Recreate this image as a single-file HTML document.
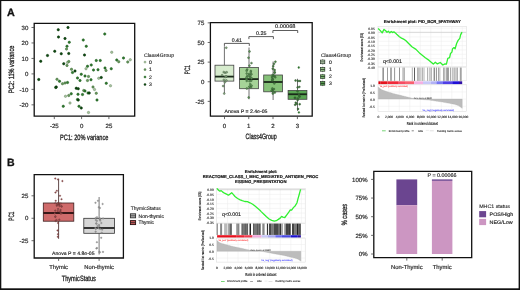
<!DOCTYPE html>
<html><head><meta charset="utf-8"><style>
html,body{margin:0;padding:0;background:#fff;}
svg{display:block;font-family:"Liberation Sans", sans-serif;text-rendering:geometricPrecision;}
</style></head><body>
<svg width="520" height="290" viewBox="0 0 520 290">
<rect width="520" height="290" fill="#fff"/>
<rect x="0.00" y="0.00" width="520.00" height="1.05" fill="#111" stroke="none" stroke-width="1" />
<rect x="0.00" y="0.00" width="1.30" height="290.00" fill="#111" stroke="none" stroke-width="1" />
<rect x="518.60" y="0.00" width="1.40" height="290.00" fill="#111" stroke="none" stroke-width="1" />
<rect x="0.00" y="288.30" width="520.00" height="1.70" fill="#111" stroke="none" stroke-width="1" />
<circle cx="58.25" cy="29.75" r="1.2" fill="#0e4a12" stroke="#063006" stroke-width="0.5"/>
<circle cx="68.00" cy="27.50" r="1.2" fill="#0e4a12" stroke="#063006" stroke-width="0.5"/>
<circle cx="58.50" cy="37.00" r="1.2" fill="#0e4a12" stroke="#063006" stroke-width="0.5"/>
<circle cx="65.00" cy="38.50" r="1.2" fill="#0e4a12" stroke="#063006" stroke-width="0.5"/>
<circle cx="69.25" cy="42.25" r="1.2" fill="#2f7a2f" stroke="#1f5a1f" stroke-width="0.5"/>
<circle cx="67.00" cy="46.25" r="1.2" fill="#2f7a2f" stroke="#1f5a1f" stroke-width="0.5"/>
<circle cx="66.50" cy="49.00" r="1.2" fill="#6a9a5f" stroke="#3f6a38" stroke-width="0.5"/>
<circle cx="54.75" cy="51.25" r="1.2" fill="#0e4a12" stroke="#063006" stroke-width="0.5"/>
<circle cx="61.25" cy="53.75" r="1.2" fill="#0e4a12" stroke="#063006" stroke-width="0.5"/>
<circle cx="68.75" cy="53.50" r="1.2" fill="#0e4a12" stroke="#063006" stroke-width="0.5"/>
<circle cx="47.50" cy="55.50" r="1.2" fill="#0e4a12" stroke="#063006" stroke-width="0.5"/>
<circle cx="40.75" cy="61.25" r="1.2" fill="#0e4a12" stroke="#063006" stroke-width="0.5"/>
<circle cx="63.75" cy="63.75" r="1.2" fill="#0e4a12" stroke="#063006" stroke-width="0.5"/>
<circle cx="67.50" cy="62.50" r="1.2" fill="#a9c4a0" stroke="#6f8a68" stroke-width="0.5"/>
<circle cx="67.00" cy="65.50" r="1.2" fill="#6a9a5f" stroke="#3f6a38" stroke-width="0.5"/>
<circle cx="68.80" cy="61.50" r="1.2" fill="#6a9a5f" stroke="#3f6a38" stroke-width="0.5"/>
<circle cx="83.25" cy="40.00" r="1.2" fill="#2f7a2f" stroke="#1f5a1f" stroke-width="0.5"/>
<circle cx="86.25" cy="46.25" r="1.2" fill="#2f7a2f" stroke="#1f5a1f" stroke-width="0.5"/>
<circle cx="84.50" cy="55.00" r="1.2" fill="#0e4a12" stroke="#063006" stroke-width="0.5"/>
<circle cx="104.75" cy="34.00" r="1.2" fill="#2f7a2f" stroke="#1f5a1f" stroke-width="0.5"/>
<circle cx="111.75" cy="52.25" r="1.2" fill="#a9c4a0" stroke="#6f8a68" stroke-width="0.5"/>
<circle cx="116.75" cy="60.00" r="1.2" fill="#2f7a2f" stroke="#1f5a1f" stroke-width="0.5"/>
<circle cx="118.75" cy="61.75" r="1.2" fill="#6a9a5f" stroke="#3f6a38" stroke-width="0.5"/>
<circle cx="123.50" cy="58.00" r="1.2" fill="#2f7a2f" stroke="#1f5a1f" stroke-width="0.5"/>
<circle cx="127.75" cy="62.00" r="1.2" fill="#6a9a5f" stroke="#3f6a38" stroke-width="0.5"/>
<circle cx="130.25" cy="59.75" r="1.2" fill="#a9c4a0" stroke="#6f8a68" stroke-width="0.5"/>
<circle cx="96.25" cy="60.50" r="1.2" fill="#2f7a2f" stroke="#1f5a1f" stroke-width="0.5"/>
<circle cx="100.25" cy="60.50" r="1.2" fill="#2f7a2f" stroke="#1f5a1f" stroke-width="0.5"/>
<circle cx="87.50" cy="66.25" r="1.2" fill="#2f7a2f" stroke="#1f5a1f" stroke-width="0.5"/>
<circle cx="91.25" cy="65.00" r="1.2" fill="#2f7a2f" stroke="#1f5a1f" stroke-width="0.5"/>
<circle cx="86.00" cy="68.75" r="1.2" fill="#a9c4a0" stroke="#6f8a68" stroke-width="0.5"/>
<circle cx="71.50" cy="69.25" r="1.2" fill="#6a9a5f" stroke="#3f6a38" stroke-width="0.5"/>
<circle cx="75.00" cy="71.00" r="1.2" fill="#0e4a12" stroke="#063006" stroke-width="0.5"/>
<circle cx="72.50" cy="72.50" r="1.2" fill="#2f7a2f" stroke="#1f5a1f" stroke-width="0.5"/>
<circle cx="93.50" cy="70.00" r="1.2" fill="#2f7a2f" stroke="#1f5a1f" stroke-width="0.5"/>
<circle cx="98.00" cy="69.75" r="1.2" fill="#2f7a2f" stroke="#1f5a1f" stroke-width="0.5"/>
<circle cx="105.00" cy="68.00" r="1.2" fill="#2f7a2f" stroke="#1f5a1f" stroke-width="0.5"/>
<circle cx="106.00" cy="70.50" r="1.2" fill="#6a9a5f" stroke="#3f6a38" stroke-width="0.5"/>
<circle cx="111.25" cy="68.75" r="1.2" fill="#2f7a2f" stroke="#1f5a1f" stroke-width="0.5"/>
<circle cx="81.25" cy="74.25" r="1.2" fill="#2f7a2f" stroke="#1f5a1f" stroke-width="0.5"/>
<circle cx="77.50" cy="78.00" r="1.2" fill="#2f7a2f" stroke="#1f5a1f" stroke-width="0.5"/>
<circle cx="80.00" cy="80.50" r="1.2" fill="#2f7a2f" stroke="#1f5a1f" stroke-width="0.5"/>
<circle cx="85.00" cy="76.00" r="1.2" fill="#2f7a2f" stroke="#1f5a1f" stroke-width="0.5"/>
<circle cx="88.50" cy="76.50" r="1.2" fill="#6a9a5f" stroke="#3f6a38" stroke-width="0.5"/>
<circle cx="91.00" cy="79.75" r="1.2" fill="#2f7a2f" stroke="#1f5a1f" stroke-width="0.5"/>
<circle cx="87.50" cy="80.50" r="1.2" fill="#6a9a5f" stroke="#3f6a38" stroke-width="0.5"/>
<circle cx="98.75" cy="78.25" r="1.2" fill="#a9c4a0" stroke="#6f8a68" stroke-width="0.5"/>
<circle cx="101.25" cy="77.50" r="1.2" fill="#0e4a12" stroke="#063006" stroke-width="0.5"/>
<circle cx="38.75" cy="79.50" r="1.2" fill="#0e4a12" stroke="#063006" stroke-width="0.5"/>
<circle cx="57.00" cy="79.25" r="1.2" fill="#6a9a5f" stroke="#3f6a38" stroke-width="0.5"/>
<circle cx="59.50" cy="81.25" r="1.2" fill="#2f7a2f" stroke="#1f5a1f" stroke-width="0.5"/>
<circle cx="62.50" cy="83.75" r="1.2" fill="#6a9a5f" stroke="#3f6a38" stroke-width="0.5"/>
<circle cx="65.00" cy="83.00" r="1.2" fill="#6a9a5f" stroke="#3f6a38" stroke-width="0.5"/>
<circle cx="67.50" cy="82.50" r="1.2" fill="#2f7a2f" stroke="#1f5a1f" stroke-width="0.5"/>
<circle cx="56.25" cy="87.00" r="1.2" fill="#0e4a12" stroke="#063006" stroke-width="0.5"/>
<circle cx="55.75" cy="87.50" r="1.2" fill="#0e4a12" stroke="#063006" stroke-width="0.5"/>
<circle cx="76.25" cy="88.25" r="1.2" fill="#0e4a12" stroke="#063006" stroke-width="0.5"/>
<circle cx="78.25" cy="88.75" r="1.2" fill="#0e4a12" stroke="#063006" stroke-width="0.5"/>
<circle cx="83.75" cy="90.50" r="1.2" fill="#6a9a5f" stroke="#3f6a38" stroke-width="0.5"/>
<circle cx="85.00" cy="91.00" r="1.2" fill="#2f7a2f" stroke="#1f5a1f" stroke-width="0.5"/>
<circle cx="88.00" cy="93.00" r="1.2" fill="#2f7a2f" stroke="#1f5a1f" stroke-width="0.5"/>
<circle cx="89.25" cy="93.00" r="1.2" fill="#0e4a12" stroke="#063006" stroke-width="0.5"/>
<circle cx="93.00" cy="87.00" r="1.2" fill="#6a9a5f" stroke="#3f6a38" stroke-width="0.5"/>
<circle cx="94.50" cy="89.50" r="1.2" fill="#a9c4a0" stroke="#6f8a68" stroke-width="0.5"/>
<circle cx="96.25" cy="93.25" r="1.2" fill="#6a9a5f" stroke="#3f6a38" stroke-width="0.5"/>
<circle cx="106.25" cy="83.25" r="1.2" fill="#2f7a2f" stroke="#1f5a1f" stroke-width="0.5"/>
<circle cx="110.50" cy="85.75" r="1.2" fill="#a9c4a0" stroke="#6f8a68" stroke-width="0.5"/>
<circle cx="65.50" cy="96.25" r="1.2" fill="#a9c4a0" stroke="#6f8a68" stroke-width="0.5"/>
<circle cx="68.75" cy="95.50" r="1.2" fill="#6a9a5f" stroke="#3f6a38" stroke-width="0.5"/>
<circle cx="71.25" cy="93.75" r="1.2" fill="#2f7a2f" stroke="#1f5a1f" stroke-width="0.5"/>
<circle cx="78.00" cy="94.25" r="1.2" fill="#2f7a2f" stroke="#1f5a1f" stroke-width="0.5"/>
<circle cx="82.50" cy="94.50" r="1.2" fill="#2f7a2f" stroke="#1f5a1f" stroke-width="0.5"/>
<circle cx="70.00" cy="103.00" r="1.2" fill="#a9c4a0" stroke="#6f8a68" stroke-width="0.5"/>
<circle cx="77.50" cy="99.50" r="1.2" fill="#2f7a2f" stroke="#1f5a1f" stroke-width="0.5"/>
<circle cx="78.25" cy="100.00" r="1.2" fill="#0e4a12" stroke="#063006" stroke-width="0.5"/>
<circle cx="79.00" cy="106.25" r="1.2" fill="#2f7a2f" stroke="#1f5a1f" stroke-width="0.5"/>
<circle cx="81.25" cy="108.00" r="1.2" fill="#0e4a12" stroke="#063006" stroke-width="0.5"/>
<circle cx="63.25" cy="106.25" r="1.2" fill="#2f7a2f" stroke="#1f5a1f" stroke-width="0.5"/>
<circle cx="88.50" cy="112.50" r="1.2" fill="#a9c4a0" stroke="#6f8a68" stroke-width="0.5"/>
<circle cx="97.00" cy="100.00" r="1.2" fill="#2f7a2f" stroke="#1f5a1f" stroke-width="0.5"/>
<path d="M34.2,23.35 L134.7,23.35 L134.7,116.2 L34.2,116.2 Z" fill="none" stroke="#111" stroke-width="1.3"/>
<line x1="31.50" y1="27.49" x2="34.20" y2="27.49" stroke="#444" stroke-width="0.8" />
<line x1="31.50" y1="42.96" x2="34.20" y2="42.96" stroke="#444" stroke-width="0.8" />
<line x1="31.50" y1="58.43" x2="34.20" y2="58.43" stroke="#444" stroke-width="0.8" />
<line x1="31.50" y1="73.90" x2="34.20" y2="73.90" stroke="#444" stroke-width="0.8" />
<line x1="31.50" y1="89.37" x2="34.20" y2="89.37" stroke="#444" stroke-width="0.8" />
<line x1="31.50" y1="104.84" x2="34.20" y2="104.84" stroke="#444" stroke-width="0.8" />
<line x1="54.30" y1="116.20" x2="54.30" y2="119.10" stroke="#444" stroke-width="0.8" />
<line x1="81.60" y1="116.20" x2="81.60" y2="119.10" stroke="#444" stroke-width="0.8" />
<line x1="108.90" y1="116.20" x2="108.90" y2="119.10" stroke="#444" stroke-width="0.8" />
<circle cx="145.00" cy="62.10" r="1.05" fill="#a9c4a0" stroke="#6f8a68" stroke-width="0.4"/>
<circle cx="145.00" cy="69.60" r="1.05" fill="#6a9a5f" stroke="#3f6a38" stroke-width="0.4"/>
<circle cx="145.00" cy="77.00" r="1.05" fill="#2f7a2f" stroke="#1f5a1f" stroke-width="0.4"/>
<circle cx="145.00" cy="84.50" r="1.05" fill="#0e4a12" stroke="#063006" stroke-width="0.4"/>
<line x1="224.40" y1="46.25" x2="224.40" y2="65.20" stroke="#333" stroke-width="0.7" />
<line x1="224.40" y1="81.10" x2="224.40" y2="93.75" stroke="#333" stroke-width="0.7" />
<rect x="215.00" y="65.20" width="18.80" height="15.90" fill="#d6ebcd" stroke="#444" stroke-width="0.8" />
<line x1="215.00" y1="76.60" x2="233.80" y2="76.60" stroke="#1a2a1a" stroke-width="1.8" />
<line x1="249.00" y1="47.50" x2="249.00" y2="67.50" stroke="#333" stroke-width="0.7" />
<line x1="249.00" y1="88.70" x2="249.00" y2="99.25" stroke="#333" stroke-width="0.7" />
<rect x="239.60" y="67.50" width="18.80" height="21.20" fill="#a6d398" stroke="#444" stroke-width="0.8" />
<line x1="239.60" y1="79.10" x2="258.40" y2="79.10" stroke="#1a2a1a" stroke-width="1.8" />
<line x1="273.10" y1="61.50" x2="273.10" y2="75.00" stroke="#333" stroke-width="0.7" />
<line x1="273.10" y1="91.80" x2="273.10" y2="100.00" stroke="#333" stroke-width="0.7" />
<rect x="263.70" y="75.00" width="18.80" height="16.80" fill="#85c178" stroke="#444" stroke-width="0.8" />
<line x1="263.70" y1="82.00" x2="282.50" y2="82.00" stroke="#1a2a1a" stroke-width="1.8" />
<line x1="297.50" y1="78.75" x2="297.50" y2="90.50" stroke="#333" stroke-width="0.7" />
<line x1="297.50" y1="99.30" x2="297.50" y2="110.90" stroke="#333" stroke-width="0.7" />
<rect x="288.10" y="90.50" width="18.80" height="8.80" fill="#5aa553" stroke="#444" stroke-width="0.8" />
<line x1="288.10" y1="94.25" x2="306.90" y2="94.25" stroke="#1a2a1a" stroke-width="1.8" />
<circle cx="223.72" cy="72.10" r="0.95" fill="#8fae88" stroke="#2d4a2a" stroke-width="0.4"/>
<circle cx="222.14" cy="75.15" r="0.95" fill="#8fae88" stroke="#2d4a2a" stroke-width="0.4"/>
<circle cx="223.15" cy="86.03" r="0.95" fill="#8fae88" stroke="#2d4a2a" stroke-width="0.4"/>
<circle cx="224.25" cy="93.54" r="0.95" fill="#8fae88" stroke="#2d4a2a" stroke-width="0.4"/>
<circle cx="225.12" cy="72.77" r="0.95" fill="#8fae88" stroke="#2d4a2a" stroke-width="0.4"/>
<circle cx="226.31" cy="76.41" r="0.95" fill="#8fae88" stroke="#2d4a2a" stroke-width="0.4"/>
<circle cx="225.29" cy="76.99" r="0.95" fill="#8fae88" stroke="#2d4a2a" stroke-width="0.4"/>
<circle cx="224.87" cy="82.27" r="0.95" fill="#8fae88" stroke="#2d4a2a" stroke-width="0.4"/>
<circle cx="226.30" cy="47.72" r="0.95" fill="#8fae88" stroke="#2d4a2a" stroke-width="0.4"/>
<circle cx="226.37" cy="80.39" r="0.95" fill="#8fae88" stroke="#2d4a2a" stroke-width="0.4"/>
<circle cx="223.85" cy="79.85" r="0.95" fill="#8fae88" stroke="#2d4a2a" stroke-width="0.4"/>
<circle cx="226.67" cy="72.27" r="0.95" fill="#8fae88" stroke="#2d4a2a" stroke-width="0.4"/>
<circle cx="247.11" cy="69.57" r="0.95" fill="#5f9a58" stroke="#2d4a2a" stroke-width="0.4"/>
<circle cx="248.67" cy="97.46" r="0.95" fill="#5f9a58" stroke="#2d4a2a" stroke-width="0.4"/>
<circle cx="249.04" cy="73.88" r="0.95" fill="#5f9a58" stroke="#2d4a2a" stroke-width="0.4"/>
<circle cx="249.44" cy="65.66" r="0.95" fill="#5f9a58" stroke="#2d4a2a" stroke-width="0.4"/>
<circle cx="249.95" cy="86.67" r="0.95" fill="#5f9a58" stroke="#2d4a2a" stroke-width="0.4"/>
<circle cx="251.55" cy="85.66" r="0.95" fill="#5f9a58" stroke="#2d4a2a" stroke-width="0.4"/>
<circle cx="250.88" cy="70.96" r="0.95" fill="#5f9a58" stroke="#2d4a2a" stroke-width="0.4"/>
<circle cx="249.36" cy="86.68" r="0.95" fill="#5f9a58" stroke="#2d4a2a" stroke-width="0.4"/>
<circle cx="250.72" cy="71.98" r="0.95" fill="#5f9a58" stroke="#2d4a2a" stroke-width="0.4"/>
<circle cx="246.73" cy="73.54" r="0.95" fill="#5f9a58" stroke="#2d4a2a" stroke-width="0.4"/>
<circle cx="246.86" cy="88.48" r="0.95" fill="#5f9a58" stroke="#2d4a2a" stroke-width="0.4"/>
<circle cx="247.18" cy="76.20" r="0.95" fill="#5f9a58" stroke="#2d4a2a" stroke-width="0.4"/>
<circle cx="250.94" cy="87.28" r="0.95" fill="#5f9a58" stroke="#2d4a2a" stroke-width="0.4"/>
<circle cx="246.63" cy="79.30" r="0.95" fill="#5f9a58" stroke="#2d4a2a" stroke-width="0.4"/>
<circle cx="250.98" cy="74.52" r="0.95" fill="#5f9a58" stroke="#2d4a2a" stroke-width="0.4"/>
<circle cx="251.59" cy="78.21" r="0.95" fill="#5f9a58" stroke="#2d4a2a" stroke-width="0.4"/>
<circle cx="249.52" cy="51.48" r="0.95" fill="#5f9a58" stroke="#2d4a2a" stroke-width="0.4"/>
<circle cx="248.52" cy="57.71" r="0.95" fill="#5f9a58" stroke="#2d4a2a" stroke-width="0.4"/>
<circle cx="246.62" cy="70.81" r="0.95" fill="#5f9a58" stroke="#2d4a2a" stroke-width="0.4"/>
<circle cx="251.39" cy="74.15" r="0.95" fill="#5f9a58" stroke="#2d4a2a" stroke-width="0.4"/>
<circle cx="248.79" cy="75.51" r="0.95" fill="#5f9a58" stroke="#2d4a2a" stroke-width="0.4"/>
<circle cx="249.50" cy="81.15" r="0.95" fill="#5f9a58" stroke="#2d4a2a" stroke-width="0.4"/>
<circle cx="251.29" cy="80.65" r="0.95" fill="#5f9a58" stroke="#2d4a2a" stroke-width="0.4"/>
<circle cx="250.15" cy="76.64" r="0.95" fill="#5f9a58" stroke="#2d4a2a" stroke-width="0.4"/>
<circle cx="251.48" cy="63.08" r="0.95" fill="#5f9a58" stroke="#2d4a2a" stroke-width="0.4"/>
<circle cx="246.46" cy="79.13" r="0.95" fill="#5f9a58" stroke="#2d4a2a" stroke-width="0.4"/>
<circle cx="246.50" cy="77.51" r="0.95" fill="#5f9a58" stroke="#2d4a2a" stroke-width="0.4"/>
<circle cx="246.71" cy="80.90" r="0.95" fill="#5f9a58" stroke="#2d4a2a" stroke-width="0.4"/>
<circle cx="249.93" cy="77.38" r="0.95" fill="#5f9a58" stroke="#2d4a2a" stroke-width="0.4"/>
<circle cx="250.24" cy="84.08" r="0.95" fill="#5f9a58" stroke="#2d4a2a" stroke-width="0.4"/>
<circle cx="274.02" cy="63.83" r="0.95" fill="#4a8a45" stroke="#2d4a2a" stroke-width="0.4"/>
<circle cx="272.87" cy="79.22" r="0.95" fill="#4a8a45" stroke="#2d4a2a" stroke-width="0.4"/>
<circle cx="272.39" cy="80.38" r="0.95" fill="#4a8a45" stroke="#2d4a2a" stroke-width="0.4"/>
<circle cx="273.60" cy="75.71" r="0.95" fill="#4a8a45" stroke="#2d4a2a" stroke-width="0.4"/>
<circle cx="274.52" cy="76.02" r="0.95" fill="#4a8a45" stroke="#2d4a2a" stroke-width="0.4"/>
<circle cx="274.32" cy="83.42" r="0.95" fill="#4a8a45" stroke="#2d4a2a" stroke-width="0.4"/>
<circle cx="274.68" cy="70.07" r="0.95" fill="#4a8a45" stroke="#2d4a2a" stroke-width="0.4"/>
<circle cx="272.76" cy="68.71" r="0.95" fill="#4a8a45" stroke="#2d4a2a" stroke-width="0.4"/>
<circle cx="272.17" cy="76.71" r="0.95" fill="#4a8a45" stroke="#2d4a2a" stroke-width="0.4"/>
<circle cx="272.78" cy="93.59" r="0.95" fill="#4a8a45" stroke="#2d4a2a" stroke-width="0.4"/>
<circle cx="272.25" cy="77.84" r="0.95" fill="#4a8a45" stroke="#2d4a2a" stroke-width="0.4"/>
<circle cx="272.85" cy="89.87" r="0.95" fill="#4a8a45" stroke="#2d4a2a" stroke-width="0.4"/>
<circle cx="273.25" cy="66.16" r="0.95" fill="#4a8a45" stroke="#2d4a2a" stroke-width="0.4"/>
<circle cx="274.86" cy="92.56" r="0.95" fill="#4a8a45" stroke="#2d4a2a" stroke-width="0.4"/>
<circle cx="274.70" cy="72.23" r="0.95" fill="#4a8a45" stroke="#2d4a2a" stroke-width="0.4"/>
<circle cx="272.30" cy="88.55" r="0.95" fill="#4a8a45" stroke="#2d4a2a" stroke-width="0.4"/>
<circle cx="274.63" cy="72.74" r="0.95" fill="#4a8a45" stroke="#2d4a2a" stroke-width="0.4"/>
<circle cx="272.67" cy="74.83" r="0.95" fill="#4a8a45" stroke="#2d4a2a" stroke-width="0.4"/>
<circle cx="275.29" cy="77.27" r="0.95" fill="#4a8a45" stroke="#2d4a2a" stroke-width="0.4"/>
<circle cx="275.40" cy="61.68" r="0.95" fill="#4a8a45" stroke="#2d4a2a" stroke-width="0.4"/>
<circle cx="272.76" cy="91.58" r="0.95" fill="#4a8a45" stroke="#2d4a2a" stroke-width="0.4"/>
<circle cx="271.65" cy="90.58" r="0.95" fill="#4a8a45" stroke="#2d4a2a" stroke-width="0.4"/>
<circle cx="273.95" cy="89.06" r="0.95" fill="#4a8a45" stroke="#2d4a2a" stroke-width="0.4"/>
<circle cx="272.27" cy="79.86" r="0.95" fill="#4a8a45" stroke="#2d4a2a" stroke-width="0.4"/>
<circle cx="297.96" cy="80.94" r="0.95" fill="#3a7a38" stroke="#2d4a2a" stroke-width="0.4"/>
<circle cx="295.13" cy="104.80" r="0.95" fill="#3a7a38" stroke="#2d4a2a" stroke-width="0.4"/>
<circle cx="299.70" cy="96.60" r="0.95" fill="#3a7a38" stroke="#2d4a2a" stroke-width="0.4"/>
<circle cx="297.90" cy="98.42" r="0.95" fill="#3a7a38" stroke="#2d4a2a" stroke-width="0.4"/>
<circle cx="295.79" cy="102.71" r="0.95" fill="#3a7a38" stroke="#2d4a2a" stroke-width="0.4"/>
<circle cx="297.63" cy="100.06" r="0.95" fill="#3a7a38" stroke="#2d4a2a" stroke-width="0.4"/>
<circle cx="298.08" cy="108.94" r="0.95" fill="#3a7a38" stroke="#2d4a2a" stroke-width="0.4"/>
<circle cx="299.38" cy="86.87" r="0.95" fill="#3a7a38" stroke="#2d4a2a" stroke-width="0.4"/>
<circle cx="296.73" cy="103.90" r="0.95" fill="#3a7a38" stroke="#2d4a2a" stroke-width="0.4"/>
<circle cx="299.15" cy="95.94" r="0.95" fill="#3a7a38" stroke="#2d4a2a" stroke-width="0.4"/>
<circle cx="299.69" cy="104.20" r="0.95" fill="#3a7a38" stroke="#2d4a2a" stroke-width="0.4"/>
<circle cx="294.94" cy="97.75" r="0.95" fill="#3a7a38" stroke="#2d4a2a" stroke-width="0.4"/>
<circle cx="295.16" cy="98.09" r="0.95" fill="#3a7a38" stroke="#2d4a2a" stroke-width="0.4"/>
<circle cx="297.64" cy="87.39" r="0.95" fill="#3a7a38" stroke="#2d4a2a" stroke-width="0.4"/>
<circle cx="298.94" cy="93.95" r="0.95" fill="#3a7a38" stroke="#2d4a2a" stroke-width="0.4"/>
<circle cx="295.56" cy="80.51" r="0.95" fill="#3a7a38" stroke="#2d4a2a" stroke-width="0.4"/>
<circle cx="299.97" cy="80.95" r="0.95" fill="#3a7a38" stroke="#2d4a2a" stroke-width="0.4"/>
<circle cx="297.51" cy="91.26" r="0.95" fill="#3a7a38" stroke="#2d4a2a" stroke-width="0.4"/>
<circle cx="298.75" cy="67.50" r="0.9" fill="#2a7a2a" stroke="#2d5a2a" stroke-width="0.35"/>
<circle cx="298.90" cy="112.40" r="0.9" fill="#2a7a2a" stroke="#2d5a2a" stroke-width="0.35"/>
<path d="M210.4,22.7 L312.2,22.7 L312.2,116.2 L210.4,116.2 Z" fill="none" stroke="#111" stroke-width="1.3"/>
<line x1="207.70" y1="22.85" x2="210.40" y2="22.85" stroke="#444" stroke-width="0.8" />
<line x1="207.70" y1="42.48" x2="210.40" y2="42.48" stroke="#444" stroke-width="0.8" />
<line x1="207.70" y1="62.12" x2="210.40" y2="62.12" stroke="#444" stroke-width="0.8" />
<line x1="207.70" y1="81.75" x2="210.40" y2="81.75" stroke="#444" stroke-width="0.8" />
<line x1="207.70" y1="101.38" x2="210.40" y2="101.38" stroke="#444" stroke-width="0.8" />
<line x1="224.50" y1="116.20" x2="224.50" y2="119.10" stroke="#444" stroke-width="0.8" />
<line x1="248.75" y1="116.20" x2="248.75" y2="119.10" stroke="#444" stroke-width="0.8" />
<line x1="273.00" y1="116.20" x2="273.00" y2="119.10" stroke="#444" stroke-width="0.8" />
<line x1="297.40" y1="116.20" x2="297.40" y2="119.10" stroke="#444" stroke-width="0.8" />
<path d="M224.40,45.90 L224.40,43.40 L249.30,43.40 L249.30,45.90" stroke="#333" stroke-width="0.8" fill="none" stroke-linejoin="round" />
<path d="M248.90,39.10 L248.90,36.60 L273.40,36.60 L273.40,39.10" stroke="#333" stroke-width="0.8" fill="none" stroke-linejoin="round" />
<path d="M272.90,33.00 L272.90,30.50 L297.70,30.50 L297.70,33.00" stroke="#333" stroke-width="0.8" fill="none" stroke-linejoin="round" />
<line x1="322.70" y1="59.20" x2="322.70" y2="64.60" stroke="#333" stroke-width="0.6" />
<rect x="320.60" y="60.10" width="4.20" height="3.60" fill="#d6ebcd" stroke="#2a3a2a" stroke-width="0.7" />
<line x1="320.60" y1="61.90" x2="324.80" y2="61.90" stroke="#1a2a1a" stroke-width="0.8" />
<line x1="322.70" y1="66.70" x2="322.70" y2="72.10" stroke="#333" stroke-width="0.6" />
<rect x="320.60" y="67.60" width="4.20" height="3.60" fill="#a6d398" stroke="#2a3a2a" stroke-width="0.7" />
<line x1="320.60" y1="69.40" x2="324.80" y2="69.40" stroke="#1a2a1a" stroke-width="0.8" />
<line x1="322.70" y1="73.90" x2="322.70" y2="79.30" stroke="#333" stroke-width="0.6" />
<rect x="320.60" y="74.80" width="4.20" height="3.60" fill="#85c178" stroke="#2a3a2a" stroke-width="0.7" />
<line x1="320.60" y1="76.60" x2="324.80" y2="76.60" stroke="#1a2a1a" stroke-width="0.8" />
<line x1="322.70" y1="80.70" x2="322.70" y2="86.10" stroke="#333" stroke-width="0.6" />
<rect x="320.60" y="81.60" width="4.20" height="3.60" fill="#5aa553" stroke="#2a3a2a" stroke-width="0.7" />
<line x1="320.60" y1="83.40" x2="324.80" y2="83.40" stroke="#1a2a1a" stroke-width="0.8" />
<rect x="378.00" y="26.70" width="88.30" height="40.10" fill="#fff" stroke="#d8d8d8" stroke-width="0.5" />
<line x1="388.80" y1="26.70" x2="388.80" y2="66.80" stroke="#ececec" stroke-width="0.5" />
<line x1="399.30" y1="26.70" x2="399.30" y2="66.80" stroke="#ececec" stroke-width="0.5" />
<line x1="409.80" y1="26.70" x2="409.80" y2="66.80" stroke="#ececec" stroke-width="0.5" />
<line x1="420.30" y1="26.70" x2="420.30" y2="66.80" stroke="#ececec" stroke-width="0.5" />
<line x1="430.80" y1="26.70" x2="430.80" y2="66.80" stroke="#ececec" stroke-width="0.5" />
<line x1="441.30" y1="26.70" x2="441.30" y2="66.80" stroke="#ececec" stroke-width="0.5" />
<line x1="451.80" y1="26.70" x2="451.80" y2="66.80" stroke="#ececec" stroke-width="0.5" />
<line x1="462.30" y1="26.70" x2="462.30" y2="66.80" stroke="#ececec" stroke-width="0.5" />
<line x1="378.30" y1="28.20" x2="466.30" y2="28.20" stroke="#ececec" stroke-width="0.5" />
<line x1="378.30" y1="32.55" x2="466.30" y2="32.55" stroke="#ececec" stroke-width="0.5" />
<line x1="378.30" y1="36.90" x2="466.30" y2="36.90" stroke="#ececec" stroke-width="0.5" />
<line x1="378.30" y1="41.25" x2="466.30" y2="41.25" stroke="#ececec" stroke-width="0.5" />
<line x1="378.30" y1="45.60" x2="466.30" y2="45.60" stroke="#ececec" stroke-width="0.5" />
<line x1="378.30" y1="49.95" x2="466.30" y2="49.95" stroke="#ececec" stroke-width="0.5" />
<line x1="378.30" y1="54.30" x2="466.30" y2="54.30" stroke="#ececec" stroke-width="0.5" />
<line x1="378.30" y1="58.65" x2="466.30" y2="58.65" stroke="#ececec" stroke-width="0.5" />
<line x1="378.30" y1="63.00" x2="466.30" y2="63.00" stroke="#ececec" stroke-width="0.5" />
<line x1="378.30" y1="32.30" x2="466.30" y2="32.30" stroke="#bbb" stroke-width="0.5" />
<path d="M378.10,28.50 L380.10,30.40 L382.20,32.90 L384.00,29.40 L385.70,30.80 L387.00,32.20 L388.40,31.20 L389.80,32.90 L391.20,31.50 L392.60,32.60 L393.90,31.80 L395.30,32.90 L396.70,34.30 L399.40,36.80 L401.50,38.10 L403.60,39.10 L405.70,40.50 L408.40,43.20 L411.90,46.70 L416.00,49.40 L420.10,53.60 L425.00,57.50 L429.10,60.40 L433.30,64.10 L435.30,62.20 L437.40,63.90 L440.20,62.50 L442.90,65.00 L445.00,63.90 L446.40,64.10 L447.80,58.30 L449.60,57.70 L450.50,53.50 L451.90,52.10 L452.60,48.70 L454.00,47.60 L455.10,48.70 L456.70,43.20 L458.10,40.40 L459.80,38.30 L460.60,34.90 L462.00,32.10" stroke="#30f030" stroke-width="1.3" fill="none" stroke-linejoin="round" />
<rect x="378.00" y="67.60" width="88.30" height="13.20" fill="#fff" stroke="#e0e0e0" stroke-width="0.5" />
<rect x="382.10" y="67.60" width="1.00" height="13.20" fill="rgba(0,0,0,0.29)" stroke="none" stroke-width="1" />
<rect x="383.00" y="67.60" width="1.00" height="13.20" fill="rgba(0,0,0,0.40)" stroke="none" stroke-width="1" />
<rect x="387.00" y="67.60" width="1.00" height="13.20" fill="rgba(0,0,0,0.39)" stroke="none" stroke-width="1" />
<rect x="390.10" y="67.60" width="1.00" height="13.20" fill="rgba(0,0,0,0.36)" stroke="none" stroke-width="1" />
<rect x="391.00" y="67.60" width="1.00" height="13.20" fill="rgba(0,0,0,0.30)" stroke="none" stroke-width="1" />
<rect x="394.10" y="67.60" width="1.00" height="13.20" fill="rgba(0,0,0,0.42)" stroke="none" stroke-width="1" />
<rect x="399.00" y="67.60" width="1.00" height="13.20" fill="rgba(0,0,0,0.43)" stroke="none" stroke-width="1" />
<rect x="402.50" y="67.60" width="1.00" height="13.20" fill="rgba(0,0,0,0.36)" stroke="none" stroke-width="1" />
<rect x="403.80" y="67.60" width="1.00" height="13.20" fill="rgba(0,0,0,0.36)" stroke="none" stroke-width="1" />
<rect x="411.80" y="67.60" width="1.00" height="13.20" fill="rgba(0,0,0,0.31)" stroke="none" stroke-width="1" />
<rect x="414.00" y="67.60" width="1.00" height="13.20" fill="rgba(0,0,0,0.64)" stroke="none" stroke-width="1" />
<rect x="417.10" y="67.60" width="1.00" height="13.20" fill="rgba(0,0,0,0.33)" stroke="none" stroke-width="1" />
<rect x="418.40" y="67.60" width="1.00" height="13.20" fill="rgba(0,0,0,0.38)" stroke="none" stroke-width="1" />
<rect x="419.70" y="67.60" width="1.00" height="13.20" fill="rgba(0,0,0,0.27)" stroke="none" stroke-width="1" />
<rect x="421.70" y="67.60" width="1.00" height="13.20" fill="rgba(0,0,0,0.42)" stroke="none" stroke-width="1" />
<rect x="423.50" y="67.60" width="1.00" height="13.20" fill="rgba(0,0,0,0.30)" stroke="none" stroke-width="1" />
<rect x="427.00" y="67.60" width="1.00" height="13.20" fill="rgba(0,0,0,0.30)" stroke="none" stroke-width="1" />
<rect x="428.80" y="67.60" width="1.00" height="13.20" fill="rgba(0,0,0,0.26)" stroke="none" stroke-width="1" />
<rect x="430.60" y="67.60" width="1.00" height="13.20" fill="rgba(0,0,0,0.47)" stroke="none" stroke-width="1" />
<rect x="433.70" y="67.60" width="1.00" height="13.20" fill="rgba(0,0,0,0.64)" stroke="none" stroke-width="1" />
<rect x="435.90" y="67.60" width="1.00" height="13.20" fill="rgba(0,0,0,0.44)" stroke="none" stroke-width="1" />
<rect x="438.10" y="67.60" width="1.00" height="13.20" fill="rgba(0,0,0,0.39)" stroke="none" stroke-width="1" />
<rect x="439.40" y="67.60" width="1.00" height="13.20" fill="rgba(0,0,0,0.26)" stroke="none" stroke-width="1" />
<rect x="443.00" y="67.60" width="1.00" height="13.20" fill="rgba(0,0,0,0.32)" stroke="none" stroke-width="1" />
<rect x="444.30" y="67.60" width="1.00" height="13.20" fill="rgba(0,0,0,0.36)" stroke="none" stroke-width="1" />
<rect x="446.50" y="67.60" width="1.00" height="13.20" fill="rgba(0,0,0,0.64)" stroke="none" stroke-width="1" />
<rect x="447.80" y="67.60" width="1.00" height="13.20" fill="rgba(0,0,0,0.46)" stroke="none" stroke-width="1" />
<rect x="450.00" y="67.60" width="1.00" height="13.20" fill="rgba(0,0,0,0.33)" stroke="none" stroke-width="1" />
<rect x="451.80" y="67.60" width="1.00" height="13.20" fill="rgba(0,0,0,0.29)" stroke="none" stroke-width="1" />
<rect x="453.60" y="67.60" width="1.00" height="13.20" fill="rgba(0,0,0,0.43)" stroke="none" stroke-width="1" />
<rect x="455.30" y="67.60" width="1.00" height="13.20" fill="rgba(0,0,0,0.28)" stroke="none" stroke-width="1" />
<rect x="456.70" y="67.60" width="1.00" height="13.20" fill="rgba(0,0,0,0.45)" stroke="none" stroke-width="1" />
<rect x="459.80" y="67.60" width="1.00" height="13.20" fill="rgba(0,0,0,0.35)" stroke="none" stroke-width="1" />
<rect x="460.70" y="67.60" width="1.00" height="13.20" fill="rgba(0,0,0,0.37)" stroke="none" stroke-width="1" />
<rect x="378.40" y="81.30" width="2.30" height="3.20" fill="#d8000c" stroke="none" stroke-width="1" />
<rect x="380.70" y="81.30" width="6.80" height="3.20" fill="#e4141e" stroke="none" stroke-width="1" />
<rect x="387.50" y="81.30" width="10.50" height="3.20" fill="#f02838" stroke="none" stroke-width="1" />
<rect x="398.00" y="81.30" width="7.00" height="3.20" fill="#f64c62" stroke="none" stroke-width="1" />
<rect x="405.00" y="81.30" width="9.30" height="3.20" fill="#f8606e" stroke="none" stroke-width="1" />
<rect x="414.30" y="81.30" width="8.70" height="3.20" fill="#f4b0e2" stroke="none" stroke-width="1" />
<rect x="423.00" y="81.30" width="7.60" height="3.20" fill="#c8c8f8" stroke="none" stroke-width="1" />
<rect x="430.60" y="81.30" width="5.80" height="3.20" fill="#b2b2f4" stroke="none" stroke-width="1" />
<rect x="436.40" y="81.30" width="6.60" height="3.20" fill="#7676f2" stroke="none" stroke-width="1" />
<rect x="443.00" y="81.30" width="9.20" height="3.20" fill="#5040e6" stroke="none" stroke-width="1" />
<rect x="452.20" y="81.30" width="6.80" height="3.20" fill="#2010d6" stroke="none" stroke-width="1" />
<rect x="459.00" y="81.30" width="3.20" height="3.20" fill="#3010a6" stroke="none" stroke-width="1" />
<rect x="378.00" y="84.60" width="88.30" height="27.00" fill="#fff" stroke="#d8d8d8" stroke-width="0.5" />
<line x1="388.80" y1="84.60" x2="388.80" y2="111.60" stroke="#ececec" stroke-width="0.5" />
<line x1="399.30" y1="84.60" x2="399.30" y2="111.60" stroke="#ececec" stroke-width="0.5" />
<line x1="409.80" y1="84.60" x2="409.80" y2="111.60" stroke="#ececec" stroke-width="0.5" />
<line x1="420.30" y1="84.60" x2="420.30" y2="111.60" stroke="#ececec" stroke-width="0.5" />
<line x1="430.80" y1="84.60" x2="430.80" y2="111.60" stroke="#ececec" stroke-width="0.5" />
<line x1="441.30" y1="84.60" x2="441.30" y2="111.60" stroke="#ececec" stroke-width="0.5" />
<line x1="451.80" y1="84.60" x2="451.80" y2="111.60" stroke="#ececec" stroke-width="0.5" />
<line x1="462.30" y1="84.60" x2="462.30" y2="111.60" stroke="#ececec" stroke-width="0.5" />
<line x1="378.30" y1="84.80" x2="466.30" y2="84.80" stroke="#ececec" stroke-width="0.5" />
<line x1="378.30" y1="91.95" x2="466.30" y2="91.95" stroke="#ececec" stroke-width="0.5" />
<line x1="378.30" y1="99.10" x2="466.30" y2="99.10" stroke="#ececec" stroke-width="0.5" />
<line x1="378.30" y1="106.25" x2="466.30" y2="106.25" stroke="#ececec" stroke-width="0.5" />
<path d="M378.30,99.10 L378.30,86.87 L379.00,87.64 L379.70,88.30 L380.40,88.83 L381.10,89.28 L381.80,89.68 L382.50,90.03 L383.19,90.31 L383.89,90.55 L384.59,90.79 L385.29,91.03 L385.99,91.27 L386.69,91.51 L387.39,91.75 L388.09,91.98 L388.79,92.20 L389.49,92.41 L390.19,92.62 L390.88,92.83 L391.58,93.03 L392.28,93.24 L392.98,93.45 L393.68,93.65 L394.38,93.85 L395.08,94.03 L395.78,94.20 L396.48,94.37 L397.18,94.53 L397.88,94.69 L398.58,94.86 L399.27,95.02 L399.97,95.19 L400.67,95.36 L401.37,95.54 L402.07,95.72 L402.77,95.90 L403.47,96.07 L404.17,96.25 L404.87,96.43 L405.57,96.60 L406.27,96.77 L406.97,96.93 L407.67,97.10 L408.36,97.27 L409.06,97.44 L409.76,97.61 L410.46,97.79 L411.16,97.98 L411.86,98.16 L412.56,98.35 L413.26,98.54 L413.96,98.72 L414.66,98.88 L415.36,99.00 L416.06,99.07 L416.75,99.13 L417.45,99.18 L418.15,99.23 L418.85,99.28 L419.55,99.33 L420.25,99.38 L420.95,99.43 L421.65,99.48 L422.35,99.53 L423.05,99.58 L423.75,99.63 L424.44,99.69 L425.14,99.74 L425.84,99.79 L426.54,99.84 L427.24,99.89 L427.94,99.94 L428.64,100.01 L429.34,100.10 L430.04,100.20 L430.74,100.30 L431.44,100.41 L432.14,100.51 L432.83,100.61 L433.53,100.72 L434.23,100.82 L434.93,100.92 L435.63,101.03 L436.33,101.13 L437.03,101.23 L437.73,101.34 L438.43,101.44 L439.13,101.54 L439.83,101.65 L440.53,101.75 L441.23,101.87 L441.92,101.99 L442.62,102.11 L443.32,102.24 L444.02,102.37 L444.72,102.49 L445.42,102.62 L446.12,102.74 L446.82,102.87 L447.52,103.00 L448.22,103.12 L448.92,103.25 L449.62,103.37 L450.31,103.50 L451.01,103.63 L451.71,103.75 L452.41,103.88 L453.11,104.02 L453.81,104.18 L454.51,104.36 L455.21,104.56 L455.91,104.75 L456.61,104.95 L457.31,105.17 L458.00,105.46 L458.70,105.86 L459.40,106.33 L460.10,106.83 L460.80,107.32 L461.50,107.81 L462.20,108.31 L462.20,99.10 Z" fill="#bcbcbc" stroke="#aaa" stroke-width="0.3"/>
<line x1="382.00" y1="130.80" x2="385.70" y2="130.80" stroke="#5c5" stroke-width="0.8" />
<line x1="411.80" y1="130.80" x2="414.20" y2="130.80" stroke="#222" stroke-width="0.9" stroke-dasharray="0.45 0.35"/>
<line x1="425.80" y1="130.40" x2="428.80" y2="130.40" stroke="#ddd" stroke-width="0.6" />
<line x1="429.80" y1="130.80" x2="433.80" y2="130.80" stroke="#d8d8d8" stroke-width="0.8" />
<rect x="216.70" y="188.30" width="88.50" height="35.20" fill="#fff" stroke="#d8d8d8" stroke-width="0.5" />
<line x1="227.55" y1="188.30" x2="227.55" y2="223.50" stroke="#ececec" stroke-width="0.5" />
<line x1="238.10" y1="188.30" x2="238.10" y2="223.50" stroke="#ececec" stroke-width="0.5" />
<line x1="248.65" y1="188.30" x2="248.65" y2="223.50" stroke="#ececec" stroke-width="0.5" />
<line x1="259.20" y1="188.30" x2="259.20" y2="223.50" stroke="#ececec" stroke-width="0.5" />
<line x1="269.75" y1="188.30" x2="269.75" y2="223.50" stroke="#ececec" stroke-width="0.5" />
<line x1="280.30" y1="188.30" x2="280.30" y2="223.50" stroke="#ececec" stroke-width="0.5" />
<line x1="290.85" y1="188.30" x2="290.85" y2="223.50" stroke="#ececec" stroke-width="0.5" />
<line x1="301.40" y1="188.30" x2="301.40" y2="223.50" stroke="#ececec" stroke-width="0.5" />
<line x1="217.00" y1="189.70" x2="305.20" y2="189.70" stroke="#ececec" stroke-width="0.5" />
<line x1="217.00" y1="194.37" x2="305.20" y2="194.37" stroke="#ececec" stroke-width="0.5" />
<line x1="217.00" y1="199.04" x2="305.20" y2="199.04" stroke="#ececec" stroke-width="0.5" />
<line x1="217.00" y1="203.70" x2="305.20" y2="203.70" stroke="#ececec" stroke-width="0.5" />
<line x1="217.00" y1="208.40" x2="305.20" y2="208.40" stroke="#ececec" stroke-width="0.5" />
<line x1="217.00" y1="213.10" x2="305.20" y2="213.10" stroke="#ececec" stroke-width="0.5" />
<line x1="217.00" y1="217.75" x2="305.20" y2="217.75" stroke="#ececec" stroke-width="0.5" />
<line x1="217.00" y1="222.40" x2="305.20" y2="222.40" stroke="#ececec" stroke-width="0.5" />
<line x1="217.00" y1="189.70" x2="305.20" y2="189.70" stroke="#bbb" stroke-width="0.5" />
<path d="M216.90,188.40 L218.60,190.20 L219.90,191.20 L221.20,190.60 L222.50,191.90 L224.50,193.20 L226.50,194.10 L228.40,195.20 L230.00,194.10 L231.70,192.80 L233.00,194.10 L235.00,196.50 L237.60,198.50 L240.20,199.80 L242.20,200.70 L244.80,201.50 L247.40,201.70 L250.00,202.80 L252.70,204.30 L255.30,206.30 L257.90,208.50 L259.90,210.20 L261.20,211.60 L263.90,214.20 L266.50,216.80 L269.10,219.00 L271.70,220.30 L274.30,221.10 L276.30,220.70 L278.30,219.40 L280.20,218.10 L281.60,216.40 L282.90,217.10 L284.80,217.50 L286.80,214.80 L288.80,212.20 L290.30,209.90 L291.60,210.20 L293.40,207.60 L295.30,205.70 L296.90,203.00 L297.90,199.10 L299.20,194.50 L300.60,189.30" stroke="#30f030" stroke-width="1.3" fill="none" stroke-linejoin="round" />
<rect x="216.70" y="223.60" width="88.50" height="11.30" fill="#fff" stroke="#e0e0e0" stroke-width="0.5" />
<rect x="216.60" y="223.60" width="1.40" height="11.30" fill="rgba(0,0,0,0.40)" stroke="none" stroke-width="1" />
<rect x="220.10" y="223.60" width="2.00" height="11.30" fill="rgba(0,0,0,0.47)" stroke="none" stroke-width="1" />
<rect x="224.10" y="223.60" width="2.90" height="11.30" fill="rgba(0,0,0,0.27)" stroke="none" stroke-width="1" />
<rect x="227.00" y="223.60" width="1.20" height="11.30" fill="rgba(0,0,0,0.13)" stroke="none" stroke-width="1" />
<rect x="228.20" y="223.60" width="1.70" height="11.30" fill="rgba(0,0,0,0.40)" stroke="none" stroke-width="1" />
<rect x="229.90" y="223.60" width="2.00" height="11.30" fill="rgba(0,0,0,0.60)" stroke="none" stroke-width="1" />
<rect x="236.00" y="223.60" width="1.20" height="11.30" fill="rgba(0,0,0,0.33)" stroke="none" stroke-width="1" />
<rect x="237.20" y="223.60" width="2.20" height="11.30" fill="rgba(0,0,0,0.47)" stroke="none" stroke-width="1" />
<rect x="241.50" y="223.60" width="6.60" height="11.30" fill="rgba(0,0,0,0.53)" stroke="none" stroke-width="1" />
<rect x="249.50" y="223.60" width="1.50" height="11.30" fill="rgba(0,0,0,0.87)" stroke="none" stroke-width="1" />
<rect x="253.00" y="223.60" width="7.80" height="11.30" fill="rgba(0,0,0,0.53)" stroke="none" stroke-width="1" />
<rect x="262.30" y="223.60" width="2.30" height="11.30" fill="rgba(0,0,0,0.47)" stroke="none" stroke-width="1" />
<rect x="266.90" y="223.60" width="1.10" height="11.30" fill="rgba(0,0,0,0.80)" stroke="none" stroke-width="1" />
<rect x="268.90" y="223.60" width="2.60" height="11.30" fill="rgba(0,0,0,0.67)" stroke="none" stroke-width="1" />
<rect x="271.50" y="223.60" width="2.30" height="11.30" fill="rgba(0,0,0,0.53)" stroke="none" stroke-width="1" />
<rect x="273.80" y="223.60" width="4.30" height="11.30" fill="rgba(0,0,0,0.67)" stroke="none" stroke-width="1" />
<rect x="278.10" y="223.60" width="1.80" height="11.30" fill="rgba(0,0,0,0.60)" stroke="none" stroke-width="1" />
<rect x="279.90" y="223.60" width="1.10" height="11.30" fill="rgba(0,0,0,0.80)" stroke="none" stroke-width="1" />
<rect x="281.00" y="223.60" width="2.00" height="11.30" fill="rgba(0,0,0,0.33)" stroke="none" stroke-width="1" />
<rect x="284.20" y="223.60" width="1.50" height="11.30" fill="rgba(0,0,0,0.40)" stroke="none" stroke-width="1" />
<rect x="285.70" y="223.60" width="5.10" height="11.30" fill="rgba(0,0,0,0.70)" stroke="none" stroke-width="1" />
<rect x="292.00" y="223.60" width="2.10" height="11.30" fill="rgba(0,0,0,0.73)" stroke="none" stroke-width="1" />
<rect x="294.10" y="223.60" width="2.70" height="11.30" fill="rgba(0,0,0,0.53)" stroke="none" stroke-width="1" />
<rect x="296.80" y="223.60" width="1.50" height="11.30" fill="rgba(0,0,0,0.87)" stroke="none" stroke-width="1" />
<rect x="298.30" y="223.60" width="2.60" height="11.30" fill="rgba(0,0,0,0.67)" stroke="none" stroke-width="1" />
<rect x="241.65" y="223.60" width="0.70" height="11.30" fill="rgba(0,0,0,0.35)" stroke="none" stroke-width="1" />
<rect x="244.85" y="223.60" width="0.70" height="11.30" fill="rgba(0,0,0,0.35)" stroke="none" stroke-width="1" />
<rect x="246.85" y="223.60" width="0.70" height="11.30" fill="rgba(0,0,0,0.35)" stroke="none" stroke-width="1" />
<rect x="253.25" y="223.60" width="0.70" height="11.30" fill="rgba(0,0,0,0.35)" stroke="none" stroke-width="1" />
<rect x="256.95" y="223.60" width="0.70" height="11.30" fill="rgba(0,0,0,0.35)" stroke="none" stroke-width="1" />
<rect x="259.35" y="223.60" width="0.70" height="11.30" fill="rgba(0,0,0,0.35)" stroke="none" stroke-width="1" />
<rect x="269.65" y="223.60" width="0.70" height="11.30" fill="rgba(0,0,0,0.35)" stroke="none" stroke-width="1" />
<rect x="274.65" y="223.60" width="0.70" height="11.30" fill="rgba(0,0,0,0.35)" stroke="none" stroke-width="1" />
<rect x="276.65" y="223.60" width="0.70" height="11.30" fill="rgba(0,0,0,0.35)" stroke="none" stroke-width="1" />
<rect x="286.65" y="223.60" width="0.70" height="11.30" fill="rgba(0,0,0,0.35)" stroke="none" stroke-width="1" />
<rect x="289.15" y="223.60" width="0.70" height="11.30" fill="rgba(0,0,0,0.35)" stroke="none" stroke-width="1" />
<rect x="217.10" y="235.20" width="19.00" height="2.70" fill="#e8101c" stroke="none" stroke-width="1" />
<rect x="236.10" y="235.20" width="8.00" height="2.70" fill="#ec2232" stroke="none" stroke-width="1" />
<rect x="244.10" y="235.20" width="8.40" height="2.70" fill="#f03c50" stroke="none" stroke-width="1" />
<rect x="252.50" y="235.20" width="9.00" height="2.70" fill="#f2a8dc" stroke="none" stroke-width="1" />
<rect x="261.50" y="235.20" width="6.20" height="2.70" fill="#c8c8f8" stroke="none" stroke-width="1" />
<rect x="267.70" y="235.20" width="7.60" height="2.70" fill="#a8a8f0" stroke="none" stroke-width="1" />
<rect x="275.30" y="235.20" width="6.60" height="2.70" fill="#6868f0" stroke="none" stroke-width="1" />
<rect x="281.90" y="235.20" width="8.80" height="2.70" fill="#4848e0" stroke="none" stroke-width="1" />
<rect x="290.70" y="235.20" width="7.10" height="2.70" fill="#1a10d0" stroke="none" stroke-width="1" />
<rect x="297.80" y="235.20" width="3.10" height="2.70" fill="#2a10a0" stroke="none" stroke-width="1" />
<rect x="216.70" y="238.10" width="88.50" height="24.00" fill="#fff" stroke="#d8d8d8" stroke-width="0.5" />
<line x1="227.55" y1="238.10" x2="227.55" y2="262.10" stroke="#ececec" stroke-width="0.5" />
<line x1="238.10" y1="238.10" x2="238.10" y2="262.10" stroke="#ececec" stroke-width="0.5" />
<line x1="248.65" y1="238.10" x2="248.65" y2="262.10" stroke="#ececec" stroke-width="0.5" />
<line x1="259.20" y1="238.10" x2="259.20" y2="262.10" stroke="#ececec" stroke-width="0.5" />
<line x1="269.75" y1="238.10" x2="269.75" y2="262.10" stroke="#ececec" stroke-width="0.5" />
<line x1="280.30" y1="238.10" x2="280.30" y2="262.10" stroke="#ececec" stroke-width="0.5" />
<line x1="290.85" y1="238.10" x2="290.85" y2="262.10" stroke="#ececec" stroke-width="0.5" />
<line x1="301.40" y1="238.10" x2="301.40" y2="262.10" stroke="#ececec" stroke-width="0.5" />
<line x1="217.00" y1="237.70" x2="305.20" y2="237.70" stroke="#ececec" stroke-width="0.5" />
<line x1="217.00" y1="244.50" x2="305.20" y2="244.50" stroke="#ececec" stroke-width="0.5" />
<line x1="217.00" y1="251.30" x2="305.20" y2="251.30" stroke="#ececec" stroke-width="0.5" />
<line x1="217.00" y1="258.10" x2="305.20" y2="258.10" stroke="#ececec" stroke-width="0.5" />
<path d="M217.00,251.30 L217.00,240.42 L217.70,241.12 L218.40,241.75 L219.10,242.26 L219.80,242.67 L220.50,242.98 L221.19,243.22 L221.89,243.44 L222.59,243.65 L223.29,243.86 L223.99,244.06 L224.69,244.26 L225.39,244.45 L226.09,244.65 L226.79,244.84 L227.49,245.04 L228.19,245.23 L228.89,245.43 L229.59,245.62 L230.28,245.82 L230.98,246.01 L231.68,246.19 L232.38,246.36 L233.08,246.52 L233.78,246.67 L234.48,246.82 L235.18,246.96 L235.88,247.11 L236.58,247.26 L237.28,247.41 L237.97,247.56 L238.67,247.71 L239.37,247.86 L240.07,248.00 L240.77,248.15 L241.47,248.30 L242.17,248.46 L242.87,248.61 L243.57,248.76 L244.27,248.92 L244.97,249.07 L245.67,249.23 L246.37,249.38 L247.06,249.54 L247.76,249.69 L248.46,249.84 L249.16,250.00 L249.86,250.15 L250.56,250.31 L251.26,250.46 L251.96,250.61 L252.66,250.72 L253.36,250.80 L254.06,250.86 L254.75,250.91 L255.45,250.96 L256.15,251.01 L256.85,251.05 L257.55,251.10 L258.25,251.15 L258.95,251.20 L259.65,251.25 L260.35,251.30 L261.05,251.35 L261.75,251.41 L262.45,251.49 L263.14,251.61 L263.84,251.74 L264.54,251.88 L265.24,252.01 L265.94,252.15 L266.64,252.29 L267.34,252.43 L268.04,252.56 L268.74,252.70 L269.44,252.84 L270.14,252.97 L270.84,253.11 L271.53,253.25 L272.23,253.38 L272.93,253.51 L273.63,253.63 L274.33,253.76 L275.03,253.88 L275.73,254.01 L276.43,254.13 L277.13,254.26 L277.83,254.38 L278.53,254.51 L279.23,254.63 L279.92,254.76 L280.62,254.88 L281.32,255.01 L282.02,255.13 L282.72,255.26 L283.42,255.40 L284.12,255.56 L284.82,255.72 L285.52,255.89 L286.22,256.06 L286.92,256.23 L287.62,256.40 L288.31,256.57 L289.01,256.74 L289.71,256.91 L290.41,257.08 L291.11,257.25 L291.81,257.42 L292.51,257.59 L293.21,257.76 L293.91,257.94 L294.61,258.12 L295.31,258.33 L296.01,258.55 L296.70,258.78 L297.40,259.02 L298.10,259.33 L298.80,259.73 L299.50,260.17 L300.20,260.63 L300.90,261.09 L300.90,251.30 Z" fill="#bcbcbc" stroke="#aaa" stroke-width="0.3"/>
<line x1="221.00" y1="281.50" x2="224.70" y2="281.50" stroke="#5c5" stroke-width="0.8" />
<line x1="250.60" y1="281.50" x2="253.00" y2="281.50" stroke="#222" stroke-width="0.9" stroke-dasharray="0.45 0.35"/>
<line x1="264.50" y1="281.10" x2="267.50" y2="281.10" stroke="#ddd" stroke-width="0.6" />
<line x1="268.50" y1="281.50" x2="272.50" y2="281.50" stroke="#d8d8d8" stroke-width="0.8" />
<line x1="58.60" y1="178.70" x2="58.60" y2="203.00" stroke="#3a1a1a" stroke-width="0.8" />
<line x1="58.60" y1="221.20" x2="58.60" y2="238.80" stroke="#3a1a1a" stroke-width="0.8" />
<rect x="43.30" y="203.00" width="30.50" height="18.20" fill="#cf6b6b" stroke="#3d1f1f" stroke-width="0.8" />
<line x1="43.30" y1="213.00" x2="73.80" y2="213.00" stroke="#2a1010" stroke-width="1.8" />
<line x1="99.10" y1="197.00" x2="99.10" y2="218.30" stroke="#555" stroke-width="0.8" />
<line x1="99.10" y1="233.30" x2="99.10" y2="254.50" stroke="#555" stroke-width="0.8" />
<rect x="83.80" y="218.30" width="30.70" height="15.00" fill="#d6d6d6" stroke="#333" stroke-width="0.8" />
<line x1="83.80" y1="228.00" x2="114.50" y2="228.00" stroke="#222" stroke-width="1.8" />
<circle cx="55.71" cy="200.77" r="0.8" fill="#9a5050" stroke="#5a2a2a" stroke-width="0.3"/>
<circle cx="58.62" cy="203.12" r="0.8" fill="#9a5050" stroke="#5a2a2a" stroke-width="0.3"/>
<circle cx="59.03" cy="204.45" r="0.8" fill="#9a5050" stroke="#5a2a2a" stroke-width="0.3"/>
<circle cx="57.63" cy="203.74" r="0.8" fill="#9a5050" stroke="#5a2a2a" stroke-width="0.3"/>
<circle cx="60.40" cy="211.14" r="0.8" fill="#9a5050" stroke="#5a2a2a" stroke-width="0.3"/>
<circle cx="55.49" cy="192.52" r="0.8" fill="#9a5050" stroke="#5a2a2a" stroke-width="0.3"/>
<circle cx="59.32" cy="219.63" r="0.8" fill="#9a5050" stroke="#5a2a2a" stroke-width="0.3"/>
<circle cx="60.57" cy="209.91" r="0.8" fill="#9a5050" stroke="#5a2a2a" stroke-width="0.3"/>
<circle cx="59.99" cy="195.76" r="0.8" fill="#9a5050" stroke="#5a2a2a" stroke-width="0.3"/>
<circle cx="55.30" cy="210.59" r="0.8" fill="#9a5050" stroke="#5a2a2a" stroke-width="0.3"/>
<circle cx="56.85" cy="190.80" r="0.8" fill="#9a5050" stroke="#5a2a2a" stroke-width="0.3"/>
<circle cx="61.69" cy="206.59" r="0.8" fill="#9a5050" stroke="#5a2a2a" stroke-width="0.3"/>
<circle cx="57.63" cy="203.99" r="0.8" fill="#9a5050" stroke="#5a2a2a" stroke-width="0.3"/>
<circle cx="58.00" cy="179.43" r="0.8" fill="#9a5050" stroke="#5a2a2a" stroke-width="0.3"/>
<circle cx="59.37" cy="205.02" r="0.8" fill="#9a5050" stroke="#5a2a2a" stroke-width="0.3"/>
<circle cx="61.76" cy="213.30" r="0.8" fill="#9a5050" stroke="#5a2a2a" stroke-width="0.3"/>
<circle cx="55.27" cy="178.50" r="0.8" fill="#9a5050" stroke="#5a2a2a" stroke-width="0.3"/>
<circle cx="55.28" cy="203.31" r="0.8" fill="#9a5050" stroke="#5a2a2a" stroke-width="0.3"/>
<circle cx="57.96" cy="234.18" r="0.8" fill="#9a5050" stroke="#5a2a2a" stroke-width="0.3"/>
<circle cx="55.35" cy="216.96" r="0.8" fill="#9a5050" stroke="#5a2a2a" stroke-width="0.3"/>
<circle cx="59.47" cy="206.11" r="0.8" fill="#9a5050" stroke="#5a2a2a" stroke-width="0.3"/>
<circle cx="59.04" cy="203.98" r="0.8" fill="#9a5050" stroke="#5a2a2a" stroke-width="0.3"/>
<circle cx="56.75" cy="205.69" r="0.8" fill="#9a5050" stroke="#5a2a2a" stroke-width="0.3"/>
<circle cx="55.57" cy="220.96" r="0.8" fill="#9a5050" stroke="#5a2a2a" stroke-width="0.3"/>
<circle cx="56.49" cy="220.12" r="0.8" fill="#9a5050" stroke="#5a2a2a" stroke-width="0.3"/>
<circle cx="57.53" cy="203.77" r="0.8" fill="#9a5050" stroke="#5a2a2a" stroke-width="0.3"/>
<circle cx="60.80" cy="213.62" r="0.8" fill="#9a5050" stroke="#5a2a2a" stroke-width="0.3"/>
<circle cx="61.51" cy="199.18" r="0.8" fill="#9a5050" stroke="#5a2a2a" stroke-width="0.3"/>
<circle cx="57.82" cy="211.12" r="0.8" fill="#9a5050" stroke="#5a2a2a" stroke-width="0.3"/>
<circle cx="54.75" cy="213.34" r="0.8" fill="#9a5050" stroke="#5a2a2a" stroke-width="0.3"/>
<circle cx="58.07" cy="208.92" r="0.8" fill="#9a5050" stroke="#5a2a2a" stroke-width="0.3"/>
<circle cx="57.20" cy="205.08" r="0.8" fill="#9a5050" stroke="#5a2a2a" stroke-width="0.3"/>
<circle cx="55.42" cy="216.40" r="0.8" fill="#9a5050" stroke="#5a2a2a" stroke-width="0.3"/>
<circle cx="60.85" cy="203.46" r="0.8" fill="#9a5050" stroke="#5a2a2a" stroke-width="0.3"/>
<circle cx="60.28" cy="211.95" r="0.8" fill="#9a5050" stroke="#5a2a2a" stroke-width="0.3"/>
<circle cx="58.00" cy="222.99" r="0.8" fill="#9a5050" stroke="#5a2a2a" stroke-width="0.3"/>
<circle cx="57.81" cy="236.81" r="0.8" fill="#9a5050" stroke="#5a2a2a" stroke-width="0.3"/>
<circle cx="57.55" cy="230.45" r="0.8" fill="#9a5050" stroke="#5a2a2a" stroke-width="0.3"/>
<circle cx="61.35" cy="206.08" r="0.8" fill="#9a5050" stroke="#5a2a2a" stroke-width="0.3"/>
<circle cx="62.40" cy="181.08" r="0.8" fill="#9a5050" stroke="#5a2a2a" stroke-width="0.3"/>
<circle cx="102.99" cy="251.90" r="0.8" fill="#a0a0a0" stroke="#666" stroke-width="0.3"/>
<circle cx="95.59" cy="218.18" r="0.8" fill="#a0a0a0" stroke="#666" stroke-width="0.3"/>
<circle cx="99.99" cy="219.55" r="0.8" fill="#a0a0a0" stroke="#666" stroke-width="0.3"/>
<circle cx="96.23" cy="223.32" r="0.8" fill="#a0a0a0" stroke="#666" stroke-width="0.3"/>
<circle cx="95.79" cy="220.06" r="0.8" fill="#a0a0a0" stroke="#666" stroke-width="0.3"/>
<circle cx="95.62" cy="228.44" r="0.8" fill="#a0a0a0" stroke="#666" stroke-width="0.3"/>
<circle cx="101.21" cy="237.82" r="0.8" fill="#a0a0a0" stroke="#666" stroke-width="0.3"/>
<circle cx="96.45" cy="248.46" r="0.8" fill="#a0a0a0" stroke="#666" stroke-width="0.3"/>
<circle cx="102.14" cy="229.58" r="0.8" fill="#a0a0a0" stroke="#666" stroke-width="0.3"/>
<circle cx="95.49" cy="202.76" r="0.8" fill="#a0a0a0" stroke="#666" stroke-width="0.3"/>
<circle cx="100.14" cy="220.60" r="0.8" fill="#a0a0a0" stroke="#666" stroke-width="0.3"/>
<circle cx="96.88" cy="242.25" r="0.8" fill="#a0a0a0" stroke="#666" stroke-width="0.3"/>
<circle cx="98.75" cy="207.20" r="0.8" fill="#a0a0a0" stroke="#666" stroke-width="0.3"/>
<circle cx="96.48" cy="223.82" r="0.8" fill="#a0a0a0" stroke="#666" stroke-width="0.3"/>
<circle cx="99.38" cy="251.89" r="0.8" fill="#a0a0a0" stroke="#666" stroke-width="0.3"/>
<circle cx="103.05" cy="218.43" r="0.8" fill="#a0a0a0" stroke="#666" stroke-width="0.3"/>
<circle cx="99.29" cy="226.17" r="0.8" fill="#a0a0a0" stroke="#666" stroke-width="0.3"/>
<circle cx="95.62" cy="231.64" r="0.8" fill="#a0a0a0" stroke="#666" stroke-width="0.3"/>
<circle cx="97.50" cy="226.13" r="0.8" fill="#a0a0a0" stroke="#666" stroke-width="0.3"/>
<circle cx="95.93" cy="228.81" r="0.8" fill="#a0a0a0" stroke="#666" stroke-width="0.3"/>
<circle cx="99.02" cy="224.80" r="0.8" fill="#a0a0a0" stroke="#666" stroke-width="0.3"/>
<circle cx="99.92" cy="218.79" r="0.8" fill="#a0a0a0" stroke="#666" stroke-width="0.3"/>
<circle cx="96.95" cy="247.97" r="0.8" fill="#a0a0a0" stroke="#666" stroke-width="0.3"/>
<circle cx="100.10" cy="228.94" r="0.8" fill="#a0a0a0" stroke="#666" stroke-width="0.3"/>
<circle cx="99.88" cy="218.54" r="0.8" fill="#a0a0a0" stroke="#666" stroke-width="0.3"/>
<circle cx="98.35" cy="228.17" r="0.8" fill="#a0a0a0" stroke="#666" stroke-width="0.3"/>
<circle cx="99.96" cy="207.97" r="0.8" fill="#a0a0a0" stroke="#666" stroke-width="0.3"/>
<circle cx="97.94" cy="200.76" r="0.8" fill="#a0a0a0" stroke="#666" stroke-width="0.3"/>
<circle cx="95.31" cy="228.06" r="0.8" fill="#a0a0a0" stroke="#666" stroke-width="0.3"/>
<circle cx="101.36" cy="223.01" r="0.8" fill="#a0a0a0" stroke="#666" stroke-width="0.3"/>
<circle cx="99.82" cy="252.33" r="0.8" fill="#a0a0a0" stroke="#666" stroke-width="0.3"/>
<circle cx="101.76" cy="232.79" r="0.8" fill="#a0a0a0" stroke="#666" stroke-width="0.3"/>
<circle cx="96.95" cy="217.23" r="0.8" fill="#a0a0a0" stroke="#666" stroke-width="0.3"/>
<circle cx="96.87" cy="220.88" r="0.8" fill="#a0a0a0" stroke="#666" stroke-width="0.3"/>
<circle cx="102.61" cy="203.97" r="0.8" fill="#a0a0a0" stroke="#666" stroke-width="0.3"/>
<path d="M34.2,174.6 L123.4,174.6 L123.4,258 L34.2,258 Z" fill="none" stroke="#111" stroke-width="1.3"/>
<line x1="31.50" y1="195.81" x2="34.20" y2="195.81" stroke="#444" stroke-width="0.8" />
<line x1="31.50" y1="218.25" x2="34.20" y2="218.25" stroke="#444" stroke-width="0.8" />
<line x1="31.50" y1="240.69" x2="34.20" y2="240.69" stroke="#444" stroke-width="0.8" />
<line x1="58.60" y1="258.00" x2="58.60" y2="260.90" stroke="#444" stroke-width="0.8" />
<line x1="99.10" y1="258.00" x2="99.10" y2="260.90" stroke="#444" stroke-width="0.8" />
<rect x="130.40" y="213.80" width="5.20" height="4.00" fill="#b8b8b8" stroke="#333" stroke-width="0.9" />
<line x1="130.40" y1="215.80" x2="135.60" y2="215.80" stroke="#222" stroke-width="0.7" />
<rect x="130.40" y="220.60" width="5.20" height="4.00" fill="#c05858" stroke="#2a1010" stroke-width="0.9" />
<line x1="130.40" y1="222.60" x2="135.60" y2="222.60" stroke="#222" stroke-width="0.7" />
<rect x="396.40" y="179.40" width="20.80" height="25.81" fill="#6b4590" stroke="none" stroke-width="1" />
<rect x="396.40" y="205.21" width="20.80" height="48.79" fill="#cc96c2" stroke="none" stroke-width="1" />
<rect x="431.90" y="179.40" width="20.50" height="1.49" fill="#6b4590" stroke="none" stroke-width="1" />
<rect x="431.90" y="180.89" width="20.50" height="73.11" fill="#cc96c2" stroke="none" stroke-width="1" />
<path d="M373.8,171.3 L471.7,171.3 L471.7,257.7 L373.8,257.7 Z" fill="none" stroke="#111" stroke-width="1.3"/>
<line x1="371.10" y1="179.40" x2="373.80" y2="179.40" stroke="#444" stroke-width="0.8" />
<line x1="371.10" y1="198.05" x2="373.80" y2="198.05" stroke="#444" stroke-width="0.8" />
<line x1="371.10" y1="216.70" x2="373.80" y2="216.70" stroke="#444" stroke-width="0.8" />
<line x1="371.10" y1="235.35" x2="373.80" y2="235.35" stroke="#444" stroke-width="0.8" />
<line x1="371.10" y1="254.00" x2="373.80" y2="254.00" stroke="#444" stroke-width="0.8" />
<line x1="406.80" y1="257.70" x2="406.80" y2="260.60" stroke="#444" stroke-width="0.8" />
<line x1="442.20" y1="257.70" x2="442.20" y2="260.60" stroke="#444" stroke-width="0.8" />
<rect x="479.20" y="211.10" width="6.90" height="6.20" fill="#6b4590" stroke="none" stroke-width="1" />
<rect x="479.20" y="218.90" width="6.90" height="6.20" fill="#cc96c2" stroke="none" stroke-width="1" />
<g opacity="0.999">
<text transform="translate(6.90 12.70) scale(0.1)" x="0" y="37.95" font-size="106.00" text-anchor="start" fill="#111" stroke="#111" stroke-width="3.00" font-weight="bold" textLength="78.00" lengthAdjust="spacingAndGlyphs" >A</text>
<text transform="translate(6.90 162.60) scale(0.1)" x="0" y="37.95" font-size="106.00" text-anchor="start" fill="#111" stroke="#111" stroke-width="3.00" font-weight="bold" textLength="76.00" lengthAdjust="spacingAndGlyphs" >B</text>
<text transform="translate(28.30 27.49) scale(0.1)" x="0" y="21.84" font-size="61.00" text-anchor="end" fill="#333" stroke="#333" stroke-width="2.20" >30</text>
<text transform="translate(28.30 42.96) scale(0.1)" x="0" y="21.84" font-size="61.00" text-anchor="end" fill="#333" stroke="#333" stroke-width="2.20" >20</text>
<text transform="translate(28.30 58.43) scale(0.1)" x="0" y="21.84" font-size="61.00" text-anchor="end" fill="#333" stroke="#333" stroke-width="2.20" >10</text>
<text transform="translate(28.30 73.90) scale(0.1)" x="0" y="21.84" font-size="61.00" text-anchor="end" fill="#333" stroke="#333" stroke-width="2.20" >0</text>
<text transform="translate(28.30 89.37) scale(0.1)" x="0" y="21.84" font-size="61.00" text-anchor="end" fill="#333" stroke="#333" stroke-width="2.20" >-10</text>
<text transform="translate(28.30 104.84) scale(0.1)" x="0" y="21.84" font-size="61.00" text-anchor="end" fill="#333" stroke="#333" stroke-width="2.20" >-20</text>
<text transform="translate(54.30 125.40) scale(0.1)" x="0" y="21.84" font-size="61.00" text-anchor="middle" fill="#333" stroke="#333" stroke-width="2.20" >-25</text>
<text transform="translate(81.60 125.40) scale(0.1)" x="0" y="21.84" font-size="61.00" text-anchor="middle" fill="#333" stroke="#333" stroke-width="2.20" >0</text>
<text transform="translate(108.90 125.40) scale(0.1)" x="0" y="21.84" font-size="61.00" text-anchor="middle" fill="#333" stroke="#333" stroke-width="2.20" >25</text>
<text transform="translate(84.25 137.00) scale(0.1)" x="0" y="27.92" font-size="78.00" text-anchor="middle" fill="#222" stroke="#222" stroke-width="3.00" textLength="483.00" lengthAdjust="spacingAndGlyphs" >PC1: 20% variance</text>
<text transform="translate(11.30 69.50) rotate(-90) scale(0.1)" x="0" y="27.92" font-size="78.00" text-anchor="middle" fill="#222" stroke="#222" stroke-width="3.00" textLength="476.00" lengthAdjust="spacingAndGlyphs" >PC2: 11% variance</text>
<text transform="translate(144.00 55.10) scale(0.1)" x="0" y="18.26" font-size="51.00" text-anchor="start" fill="#333" stroke="#333" stroke-width="1.50" textLength="300.00" lengthAdjust="spacingAndGlyphs" >Class4Group</text>
<text transform="translate(149.10 62.10) scale(0.1)" x="0" y="18.26" font-size="51.00" text-anchor="start" fill="#222" stroke="#222" stroke-width="1.50" >0</text>
<text transform="translate(149.10 69.60) scale(0.1)" x="0" y="18.26" font-size="51.00" text-anchor="start" fill="#222" stroke="#222" stroke-width="1.50" >1</text>
<text transform="translate(149.10 77.00) scale(0.1)" x="0" y="18.26" font-size="51.00" text-anchor="start" fill="#222" stroke="#222" stroke-width="1.50" >2</text>
<text transform="translate(149.10 84.50) scale(0.1)" x="0" y="18.26" font-size="51.00" text-anchor="start" fill="#222" stroke="#222" stroke-width="1.50" >3</text>
<text transform="translate(204.40 22.85) scale(0.1)" x="0" y="21.84" font-size="61.00" text-anchor="end" fill="#333" stroke="#333" stroke-width="2.20" >75</text>
<text transform="translate(204.40 42.48) scale(0.1)" x="0" y="21.84" font-size="61.00" text-anchor="end" fill="#333" stroke="#333" stroke-width="2.20" >50</text>
<text transform="translate(204.40 62.12) scale(0.1)" x="0" y="21.84" font-size="61.00" text-anchor="end" fill="#333" stroke="#333" stroke-width="2.20" >25</text>
<text transform="translate(204.40 81.75) scale(0.1)" x="0" y="21.84" font-size="61.00" text-anchor="end" fill="#333" stroke="#333" stroke-width="2.20" >0</text>
<text transform="translate(204.40 101.38) scale(0.1)" x="0" y="21.84" font-size="61.00" text-anchor="end" fill="#333" stroke="#333" stroke-width="2.20" >-25</text>
<text transform="translate(224.50 125.60) scale(0.1)" x="0" y="21.84" font-size="61.00" text-anchor="middle" fill="#333" stroke="#333" stroke-width="2.20" >0</text>
<text transform="translate(248.75 125.60) scale(0.1)" x="0" y="21.84" font-size="61.00" text-anchor="middle" fill="#333" stroke="#333" stroke-width="2.20" >1</text>
<text transform="translate(273.00 125.60) scale(0.1)" x="0" y="21.84" font-size="61.00" text-anchor="middle" fill="#333" stroke="#333" stroke-width="2.20" >2</text>
<text transform="translate(297.40 125.60) scale(0.1)" x="0" y="21.84" font-size="61.00" text-anchor="middle" fill="#333" stroke="#333" stroke-width="2.20" >3</text>
<text transform="translate(261.20 136.50) scale(0.1)" x="0" y="27.92" font-size="78.00" text-anchor="middle" fill="#222" stroke="#222" stroke-width="3.00" textLength="312.00" lengthAdjust="spacingAndGlyphs" >Class4Group</text>
<text transform="translate(187.30 69.70) rotate(-90) scale(0.1)" x="0" y="27.92" font-size="78.00" text-anchor="middle" fill="#222" stroke="#222" stroke-width="3.00" textLength="89.00" lengthAdjust="spacingAndGlyphs" >PC1</text>
<text transform="translate(236.85 39.70) scale(0.1)" x="0" y="18.97" font-size="53.00" text-anchor="middle" fill="#222" stroke="#222" stroke-width="1.50" textLength="102.00" lengthAdjust="spacingAndGlyphs" >0.41</text>
<text transform="translate(261.15 33.10) scale(0.1)" x="0" y="18.97" font-size="53.00" text-anchor="middle" fill="#222" stroke="#222" stroke-width="1.50" textLength="105.00" lengthAdjust="spacingAndGlyphs" >0.25</text>
<text transform="translate(285.30 26.50) scale(0.1)" x="0" y="18.97" font-size="53.00" text-anchor="middle" fill="#222" stroke="#222" stroke-width="1.50" textLength="204.00" lengthAdjust="spacingAndGlyphs" >0.00068</text>
<text transform="translate(246.00 111.30) scale(0.1)" x="0" y="17.54" font-size="49.00" text-anchor="middle" fill="#222" stroke="#222" stroke-width="1.50" textLength="430.00" lengthAdjust="spacingAndGlyphs" >Anova P = 2.4e-05</text>
<text transform="translate(320.90 54.80) scale(0.1)" x="0" y="18.26" font-size="51.00" text-anchor="start" fill="#333" stroke="#333" stroke-width="1.50" textLength="301.00" lengthAdjust="spacingAndGlyphs" >Class4Group</text>
<text transform="translate(329.00 61.90) scale(0.1)" x="0" y="18.26" font-size="51.00" text-anchor="start" fill="#222" stroke="#222" stroke-width="1.50" >0</text>
<text transform="translate(329.00 69.40) scale(0.1)" x="0" y="18.26" font-size="51.00" text-anchor="start" fill="#222" stroke="#222" stroke-width="1.50" >1</text>
<text transform="translate(329.00 76.60) scale(0.1)" x="0" y="18.26" font-size="51.00" text-anchor="start" fill="#222" stroke="#222" stroke-width="1.50" >2</text>
<text transform="translate(329.00 83.40) scale(0.1)" x="0" y="18.26" font-size="51.00" text-anchor="start" fill="#222" stroke="#222" stroke-width="1.50" >3</text>
<text transform="translate(422.20 21.60) scale(0.1)" x="0" y="15.04" font-size="42.00" text-anchor="middle" fill="#111" stroke="#111" stroke-width="1.80" font-weight="bold" textLength="770.00" lengthAdjust="spacingAndGlyphs" >Enrichment plot: PID_BCR_5PATHWAY</text>
<text transform="translate(374.80 28.70) scale(0.1)" x="0" y="11.99" font-size="33.50" text-anchor="end" fill="#333" stroke="#333" stroke-width="1.20" >0.05</text>
<text transform="translate(374.80 33.05) scale(0.1)" x="0" y="11.99" font-size="33.50" text-anchor="end" fill="#333" stroke="#333" stroke-width="1.20" >0.00</text>
<text transform="translate(374.80 37.40) scale(0.1)" x="0" y="11.99" font-size="33.50" text-anchor="end" fill="#333" stroke="#333" stroke-width="1.20" >-0.05</text>
<text transform="translate(374.80 41.75) scale(0.1)" x="0" y="11.99" font-size="33.50" text-anchor="end" fill="#333" stroke="#333" stroke-width="1.20" >-0.10</text>
<text transform="translate(374.80 46.10) scale(0.1)" x="0" y="11.99" font-size="33.50" text-anchor="end" fill="#333" stroke="#333" stroke-width="1.20" >-0.15</text>
<text transform="translate(374.80 50.45) scale(0.1)" x="0" y="11.99" font-size="33.50" text-anchor="end" fill="#333" stroke="#333" stroke-width="1.20" >-0.20</text>
<text transform="translate(374.80 54.80) scale(0.1)" x="0" y="11.99" font-size="33.50" text-anchor="end" fill="#333" stroke="#333" stroke-width="1.20" >-0.25</text>
<text transform="translate(374.80 59.15) scale(0.1)" x="0" y="11.99" font-size="33.50" text-anchor="end" fill="#333" stroke="#333" stroke-width="1.20" >-0.30</text>
<text transform="translate(374.80 63.50) scale(0.1)" x="0" y="11.99" font-size="33.50" text-anchor="end" fill="#333" stroke="#333" stroke-width="1.20" >-0.35</text>
<text transform="translate(374.80 67.85) scale(0.1)" x="0" y="11.99" font-size="33.50" text-anchor="end" fill="#333" stroke="#333" stroke-width="1.20" >-0.40</text>
<text transform="translate(382.90 60.80) scale(0.1)" x="0" y="18.97" font-size="53.00" text-anchor="start" fill="#222" stroke="#222" stroke-width="1.50" textLength="190.00" lengthAdjust="spacingAndGlyphs" >q&lt;0.001</text>
<text transform="translate(374.80 85.30) scale(0.1)" x="0" y="11.99" font-size="33.50" text-anchor="end" fill="#333" stroke="#333" stroke-width="1.20" >1.0</text>
<text transform="translate(374.80 92.45) scale(0.1)" x="0" y="11.99" font-size="33.50" text-anchor="end" fill="#333" stroke="#333" stroke-width="1.20" >0.5</text>
<text transform="translate(374.80 99.60) scale(0.1)" x="0" y="11.99" font-size="33.50" text-anchor="end" fill="#333" stroke="#333" stroke-width="1.20" >0.0</text>
<text transform="translate(374.80 106.75) scale(0.1)" x="0" y="11.99" font-size="33.50" text-anchor="end" fill="#333" stroke="#333" stroke-width="1.20" >-0.5</text>
<text transform="translate(379.50 86.40) scale(0.1)" x="0" y="8.23" font-size="23.00" text-anchor="start" fill="#f33" stroke="#f33" stroke-width="0.60" textLength="285.00" lengthAdjust="spacingAndGlyphs" >'na_pos' (positively correlated)</text>
<text transform="translate(413.70 98.20) scale(0.1)" x="0" y="8.23" font-size="23.00" text-anchor="start" fill="#444" stroke="#444" stroke-width="0.80" textLength="180.00" lengthAdjust="spacingAndGlyphs" >Zero score at 8330</text>
<text transform="translate(422.40 110.00) scale(0.1)" x="0" y="8.23" font-size="23.00" text-anchor="start" fill="#33f" stroke="#33f" stroke-width="0.60" textLength="317.00" lengthAdjust="spacingAndGlyphs" >'na_neg' (negatively correlated)</text>
<text transform="translate(378.50 116.80) scale(0.1)" x="0" y="11.81" font-size="33.00" text-anchor="middle" fill="#222" stroke="#222" stroke-width="1.30" >0</text>
<text transform="translate(389.10 116.80) scale(0.1)" x="0" y="11.81" font-size="33.00" text-anchor="middle" fill="#222" stroke="#222" stroke-width="1.30" textLength="80.00" lengthAdjust="spacingAndGlyphs" >2,000</text>
<text transform="translate(399.70 116.80) scale(0.1)" x="0" y="11.81" font-size="33.00" text-anchor="middle" fill="#222" stroke="#222" stroke-width="1.30" textLength="80.00" lengthAdjust="spacingAndGlyphs" >4,000</text>
<text transform="translate(410.30 116.80) scale(0.1)" x="0" y="11.81" font-size="33.00" text-anchor="middle" fill="#222" stroke="#222" stroke-width="1.30" textLength="80.00" lengthAdjust="spacingAndGlyphs" >6,000</text>
<text transform="translate(420.90 116.80) scale(0.1)" x="0" y="11.81" font-size="33.00" text-anchor="middle" fill="#222" stroke="#222" stroke-width="1.30" textLength="80.00" lengthAdjust="spacingAndGlyphs" >8,000</text>
<text transform="translate(431.50 116.80) scale(0.1)" x="0" y="11.81" font-size="33.00" text-anchor="middle" fill="#222" stroke="#222" stroke-width="1.30" textLength="98.00" lengthAdjust="spacingAndGlyphs" >10,000</text>
<text transform="translate(442.10 116.80) scale(0.1)" x="0" y="11.81" font-size="33.00" text-anchor="middle" fill="#222" stroke="#222" stroke-width="1.30" textLength="98.00" lengthAdjust="spacingAndGlyphs" >12,000</text>
<text transform="translate(452.70 116.80) scale(0.1)" x="0" y="11.81" font-size="33.00" text-anchor="middle" fill="#222" stroke="#222" stroke-width="1.30" textLength="98.00" lengthAdjust="spacingAndGlyphs" >14,000</text>
<text transform="translate(463.30 116.80) scale(0.1)" x="0" y="11.81" font-size="33.00" text-anchor="middle" fill="#222" stroke="#222" stroke-width="1.30" textLength="98.00" lengthAdjust="spacingAndGlyphs" >16,000</text>
<text transform="translate(422.30 123.80) scale(0.1)" x="0" y="16.11" font-size="45.00" text-anchor="middle" fill="#1a1a1a" stroke="#1a1a1a" stroke-width="0.60" font-weight="bold" textLength="312.00" lengthAdjust="spacingAndGlyphs" >Rank in ordered dataset</text>
<text transform="translate(361.90 47.35) rotate(-90) scale(0.1)" x="0" y="12.89" font-size="36.00" text-anchor="middle" fill="#222" stroke="#222" stroke-width="1.20" font-weight="bold" textLength="289.00" lengthAdjust="spacingAndGlyphs" >Enrichment score (ES)</text>
<text transform="translate(363.90 97.90) rotate(-90) scale(0.1)" x="0" y="12.89" font-size="36.00" text-anchor="middle" fill="#222" stroke="#222" stroke-width="1.20" font-weight="bold" textLength="394.00" lengthAdjust="spacingAndGlyphs" >Ranked list metric (PreRanked)</text>
<text transform="translate(388.80 130.80) scale(0.1)" x="0" y="9.67" font-size="27.00" text-anchor="start" fill="#333" stroke="#333" stroke-width="1.00" textLength="205.00" lengthAdjust="spacingAndGlyphs" >Enrichment profile</text>
<text transform="translate(418.20 130.80) scale(0.1)" x="0" y="9.67" font-size="27.00" text-anchor="start" fill="#333" stroke="#333" stroke-width="1.00" textLength="48.00" lengthAdjust="spacingAndGlyphs" >Hits</text>
<text transform="translate(437.10 130.80) scale(0.1)" x="0" y="9.67" font-size="27.00" text-anchor="start" fill="#333" stroke="#333" stroke-width="1.00" textLength="247.00" lengthAdjust="spacingAndGlyphs" >Ranking metric scores</text>
<text transform="translate(261.00 171.20) scale(0.1)" x="0" y="15.04" font-size="42.00" text-anchor="middle" fill="#111" stroke="#111" stroke-width="1.80" font-weight="bold" textLength="327.00" lengthAdjust="spacingAndGlyphs" >Enrichment plot:</text>
<text transform="translate(260.60 176.40) scale(0.1)" x="0" y="15.04" font-size="42.00" text-anchor="middle" fill="#111" stroke="#111" stroke-width="1.80" font-weight="bold" textLength="1155.00" lengthAdjust="spacingAndGlyphs" >REACTOME_CLASS_I_MHC_MEDIATED_ANTIGEN_PROC</text>
<text transform="translate(260.80 181.50) scale(0.1)" x="0" y="15.04" font-size="42.00" text-anchor="middle" fill="#111" stroke="#111" stroke-width="1.80" font-weight="bold" textLength="515.00" lengthAdjust="spacingAndGlyphs" >ESSING_PRESENTATION</text>
<text transform="translate(213.80 190.20) scale(0.1)" x="0" y="11.99" font-size="33.50" text-anchor="end" fill="#333" stroke="#333" stroke-width="1.20" >0.00</text>
<text transform="translate(213.80 194.87) scale(0.1)" x="0" y="11.99" font-size="33.50" text-anchor="end" fill="#333" stroke="#333" stroke-width="1.20" >-0.05</text>
<text transform="translate(213.80 199.54) scale(0.1)" x="0" y="11.99" font-size="33.50" text-anchor="end" fill="#333" stroke="#333" stroke-width="1.20" >-0.10</text>
<text transform="translate(213.80 204.20) scale(0.1)" x="0" y="11.99" font-size="33.50" text-anchor="end" fill="#333" stroke="#333" stroke-width="1.20" >-0.15</text>
<text transform="translate(213.80 208.90) scale(0.1)" x="0" y="11.99" font-size="33.50" text-anchor="end" fill="#333" stroke="#333" stroke-width="1.20" >-0.20</text>
<text transform="translate(213.80 213.60) scale(0.1)" x="0" y="11.99" font-size="33.50" text-anchor="end" fill="#333" stroke="#333" stroke-width="1.20" >-0.25</text>
<text transform="translate(213.80 218.25) scale(0.1)" x="0" y="11.99" font-size="33.50" text-anchor="end" fill="#333" stroke="#333" stroke-width="1.20" >-0.30</text>
<text transform="translate(213.80 222.90) scale(0.1)" x="0" y="11.99" font-size="33.50" text-anchor="end" fill="#333" stroke="#333" stroke-width="1.20" >-0.35</text>
<text transform="translate(222.10 213.80) scale(0.1)" x="0" y="18.97" font-size="53.00" text-anchor="start" fill="#222" stroke="#222" stroke-width="1.50" textLength="188.00" lengthAdjust="spacingAndGlyphs" >q&lt;0.001</text>
<text transform="translate(213.80 238.20) scale(0.1)" x="0" y="11.99" font-size="33.50" text-anchor="end" fill="#333" stroke="#333" stroke-width="1.20" >1.0</text>
<text transform="translate(213.80 245.00) scale(0.1)" x="0" y="11.99" font-size="33.50" text-anchor="end" fill="#333" stroke="#333" stroke-width="1.20" >0.5</text>
<text transform="translate(213.80 251.80) scale(0.1)" x="0" y="11.99" font-size="33.50" text-anchor="end" fill="#333" stroke="#333" stroke-width="1.20" >0.0</text>
<text transform="translate(213.80 258.60) scale(0.1)" x="0" y="11.99" font-size="33.50" text-anchor="end" fill="#333" stroke="#333" stroke-width="1.20" >-0.5</text>
<text transform="translate(218.20 239.85) scale(0.1)" x="0" y="8.23" font-size="23.00" text-anchor="start" fill="#f33" stroke="#f33" stroke-width="0.60" textLength="300.00" lengthAdjust="spacingAndGlyphs" >'na_pos' (positively correlated)</text>
<text transform="translate(250.50 250.30) scale(0.1)" x="0" y="8.23" font-size="23.00" text-anchor="start" fill="#444" stroke="#444" stroke-width="0.80" textLength="200.00" lengthAdjust="spacingAndGlyphs" >Zero score at 8330</text>
<text transform="translate(261.10 260.50) scale(0.1)" x="0" y="8.23" font-size="23.00" text-anchor="start" fill="#33f" stroke="#33f" stroke-width="0.60" textLength="313.00" lengthAdjust="spacingAndGlyphs" >'na_neg' (negatively correlated)</text>
<text transform="translate(217.00 268.00) scale(0.1)" x="0" y="11.81" font-size="33.00" text-anchor="middle" fill="#222" stroke="#222" stroke-width="1.30" >0</text>
<text transform="translate(227.60 268.00) scale(0.1)" x="0" y="11.81" font-size="33.00" text-anchor="middle" fill="#222" stroke="#222" stroke-width="1.30" textLength="80.00" lengthAdjust="spacingAndGlyphs" >2,000</text>
<text transform="translate(238.20 268.00) scale(0.1)" x="0" y="11.81" font-size="33.00" text-anchor="middle" fill="#222" stroke="#222" stroke-width="1.30" textLength="80.00" lengthAdjust="spacingAndGlyphs" >4,000</text>
<text transform="translate(248.80 268.00) scale(0.1)" x="0" y="11.81" font-size="33.00" text-anchor="middle" fill="#222" stroke="#222" stroke-width="1.30" textLength="80.00" lengthAdjust="spacingAndGlyphs" >6,000</text>
<text transform="translate(259.40 268.00) scale(0.1)" x="0" y="11.81" font-size="33.00" text-anchor="middle" fill="#222" stroke="#222" stroke-width="1.30" textLength="80.00" lengthAdjust="spacingAndGlyphs" >8,000</text>
<text transform="translate(270.00 268.00) scale(0.1)" x="0" y="11.81" font-size="33.00" text-anchor="middle" fill="#222" stroke="#222" stroke-width="1.30" textLength="98.00" lengthAdjust="spacingAndGlyphs" >10,000</text>
<text transform="translate(280.60 268.00) scale(0.1)" x="0" y="11.81" font-size="33.00" text-anchor="middle" fill="#222" stroke="#222" stroke-width="1.30" textLength="98.00" lengthAdjust="spacingAndGlyphs" >12,000</text>
<text transform="translate(291.20 268.00) scale(0.1)" x="0" y="11.81" font-size="33.00" text-anchor="middle" fill="#222" stroke="#222" stroke-width="1.30" textLength="98.00" lengthAdjust="spacingAndGlyphs" >14,000</text>
<text transform="translate(301.80 268.00) scale(0.1)" x="0" y="11.81" font-size="33.00" text-anchor="middle" fill="#222" stroke="#222" stroke-width="1.30" textLength="98.00" lengthAdjust="spacingAndGlyphs" >16,000</text>
<text transform="translate(260.80 274.60) scale(0.1)" x="0" y="16.11" font-size="45.00" text-anchor="middle" fill="#1a1a1a" stroke="#1a1a1a" stroke-width="0.60" font-weight="bold" textLength="311.00" lengthAdjust="spacingAndGlyphs" >Rank in ordered dataset</text>
<text transform="translate(200.00 206.00) rotate(-90) scale(0.1)" x="0" y="12.89" font-size="36.00" text-anchor="middle" fill="#222" stroke="#222" stroke-width="1.20" font-weight="bold" textLength="290.00" lengthAdjust="spacingAndGlyphs" >Enrichment score (ES)</text>
<text transform="translate(202.30 250.30) rotate(-90) scale(0.1)" x="0" y="12.89" font-size="36.00" text-anchor="middle" fill="#222" stroke="#222" stroke-width="1.20" font-weight="bold" textLength="400.00" lengthAdjust="spacingAndGlyphs" >Ranked list metric (PreRanked)</text>
<text transform="translate(227.30 281.50) scale(0.1)" x="0" y="9.67" font-size="27.00" text-anchor="start" fill="#333" stroke="#333" stroke-width="1.00" textLength="202.00" lengthAdjust="spacingAndGlyphs" >Enrichment profile</text>
<text transform="translate(257.00 281.50) scale(0.1)" x="0" y="9.67" font-size="27.00" text-anchor="start" fill="#333" stroke="#333" stroke-width="1.00" textLength="46.00" lengthAdjust="spacingAndGlyphs" >Hits</text>
<text transform="translate(275.50 281.50) scale(0.1)" x="0" y="9.67" font-size="27.00" text-anchor="start" fill="#333" stroke="#333" stroke-width="1.00" textLength="248.00" lengthAdjust="spacingAndGlyphs" >Ranking metric scores</text>
<text transform="translate(28.30 195.81) scale(0.1)" x="0" y="21.84" font-size="61.00" text-anchor="end" fill="#333" stroke="#333" stroke-width="2.20" >25</text>
<text transform="translate(28.30 218.25) scale(0.1)" x="0" y="21.84" font-size="61.00" text-anchor="end" fill="#333" stroke="#333" stroke-width="2.20" >0</text>
<text transform="translate(28.30 240.69) scale(0.1)" x="0" y="21.84" font-size="61.00" text-anchor="end" fill="#333" stroke="#333" stroke-width="2.20" >-25</text>
<text transform="translate(58.60 267.20) scale(0.1)" x="0" y="20.94" font-size="58.50" text-anchor="middle" fill="#333" stroke="#333" stroke-width="2.20" >Thymic</text>
<text transform="translate(99.10 267.20) scale(0.1)" x="0" y="20.94" font-size="58.50" text-anchor="middle" fill="#333" stroke="#333" stroke-width="2.20" >Non-thymic</text>
<text transform="translate(78.80 277.90) scale(0.1)" x="0" y="27.92" font-size="78.00" text-anchor="middle" fill="#222" stroke="#222" stroke-width="3.00" textLength="342.00" lengthAdjust="spacingAndGlyphs" >ThymicStatus</text>
<text transform="translate(10.90 216.20) rotate(-90) scale(0.1)" x="0" y="27.92" font-size="78.00" text-anchor="middle" fill="#222" stroke="#222" stroke-width="3.00" textLength="90.00" lengthAdjust="spacingAndGlyphs" >PC1</text>
<text transform="translate(73.30 253.00) scale(0.1)" x="0" y="17.54" font-size="49.00" text-anchor="middle" fill="#222" stroke="#222" stroke-width="1.50" textLength="425.00" lengthAdjust="spacingAndGlyphs" >Anova P = 4.8e-05</text>
<text transform="translate(130.80 208.30) scale(0.1)" x="0" y="18.26" font-size="51.00" text-anchor="start" fill="#333" stroke="#333" stroke-width="1.50" textLength="299.00" lengthAdjust="spacingAndGlyphs" >ThymicStatus</text>
<text transform="translate(138.60 215.80) scale(0.1)" x="0" y="18.26" font-size="51.00" text-anchor="start" fill="#222" stroke="#222" stroke-width="1.50" textLength="253.00" lengthAdjust="spacingAndGlyphs" >Non-thymic</text>
<text transform="translate(138.60 222.60) scale(0.1)" x="0" y="18.26" font-size="51.00" text-anchor="start" fill="#222" stroke="#222" stroke-width="1.50" textLength="152.00" lengthAdjust="spacingAndGlyphs" >Thymic</text>
<text transform="translate(367.60 179.40) scale(0.1)" x="0" y="21.84" font-size="61.00" text-anchor="end" fill="#333" stroke="#333" stroke-width="2.20" >100%</text>
<text transform="translate(367.60 198.05) scale(0.1)" x="0" y="21.84" font-size="61.00" text-anchor="end" fill="#333" stroke="#333" stroke-width="2.20" >75%</text>
<text transform="translate(367.60 216.70) scale(0.1)" x="0" y="21.84" font-size="61.00" text-anchor="end" fill="#333" stroke="#333" stroke-width="2.20" >50%</text>
<text transform="translate(367.60 235.35) scale(0.1)" x="0" y="21.84" font-size="61.00" text-anchor="end" fill="#333" stroke="#333" stroke-width="2.20" >25%</text>
<text transform="translate(367.60 254.00) scale(0.1)" x="0" y="21.84" font-size="61.00" text-anchor="end" fill="#333" stroke="#333" stroke-width="2.20" >0%</text>
<text transform="translate(406.80 267.20) scale(0.1)" x="0" y="20.94" font-size="58.50" text-anchor="middle" fill="#333" stroke="#333" stroke-width="2.20" >Non-Thymic</text>
<text transform="translate(442.20 267.20) scale(0.1)" x="0" y="20.94" font-size="58.50" text-anchor="middle" fill="#333" stroke="#333" stroke-width="2.20" >Thymic</text>
<text transform="translate(442.00 175.60) scale(0.1)" x="0" y="18.97" font-size="53.00" text-anchor="middle" fill="#222" stroke="#222" stroke-width="1.50" textLength="290.00" lengthAdjust="spacingAndGlyphs" >P = 0.00066</text>
<text transform="translate(343.80 214.60) rotate(-90) scale(0.1)" x="0" y="27.92" font-size="78.00" text-anchor="middle" fill="#222" stroke="#222" stroke-width="3.00" textLength="212.00" lengthAdjust="spacingAndGlyphs" >% cases</text>
<text transform="translate(479.20 206.00) scale(0.1)" x="0" y="18.26" font-size="51.00" text-anchor="start" fill="#333" stroke="#333" stroke-width="1.50" textLength="306.00" lengthAdjust="spacingAndGlyphs" >MHC1 status</text>
<text transform="translate(489.60 214.30) scale(0.1)" x="0" y="18.26" font-size="51.00" text-anchor="start" fill="#222" stroke="#222" stroke-width="1.50" textLength="237.00" lengthAdjust="spacingAndGlyphs" >POS/High</text>
<text transform="translate(489.60 221.90) scale(0.1)" x="0" y="18.26" font-size="51.00" text-anchor="start" fill="#222" stroke="#222" stroke-width="1.50" textLength="230.00" lengthAdjust="spacingAndGlyphs" >NEG/Low</text>
</g>
</svg></body></html>
